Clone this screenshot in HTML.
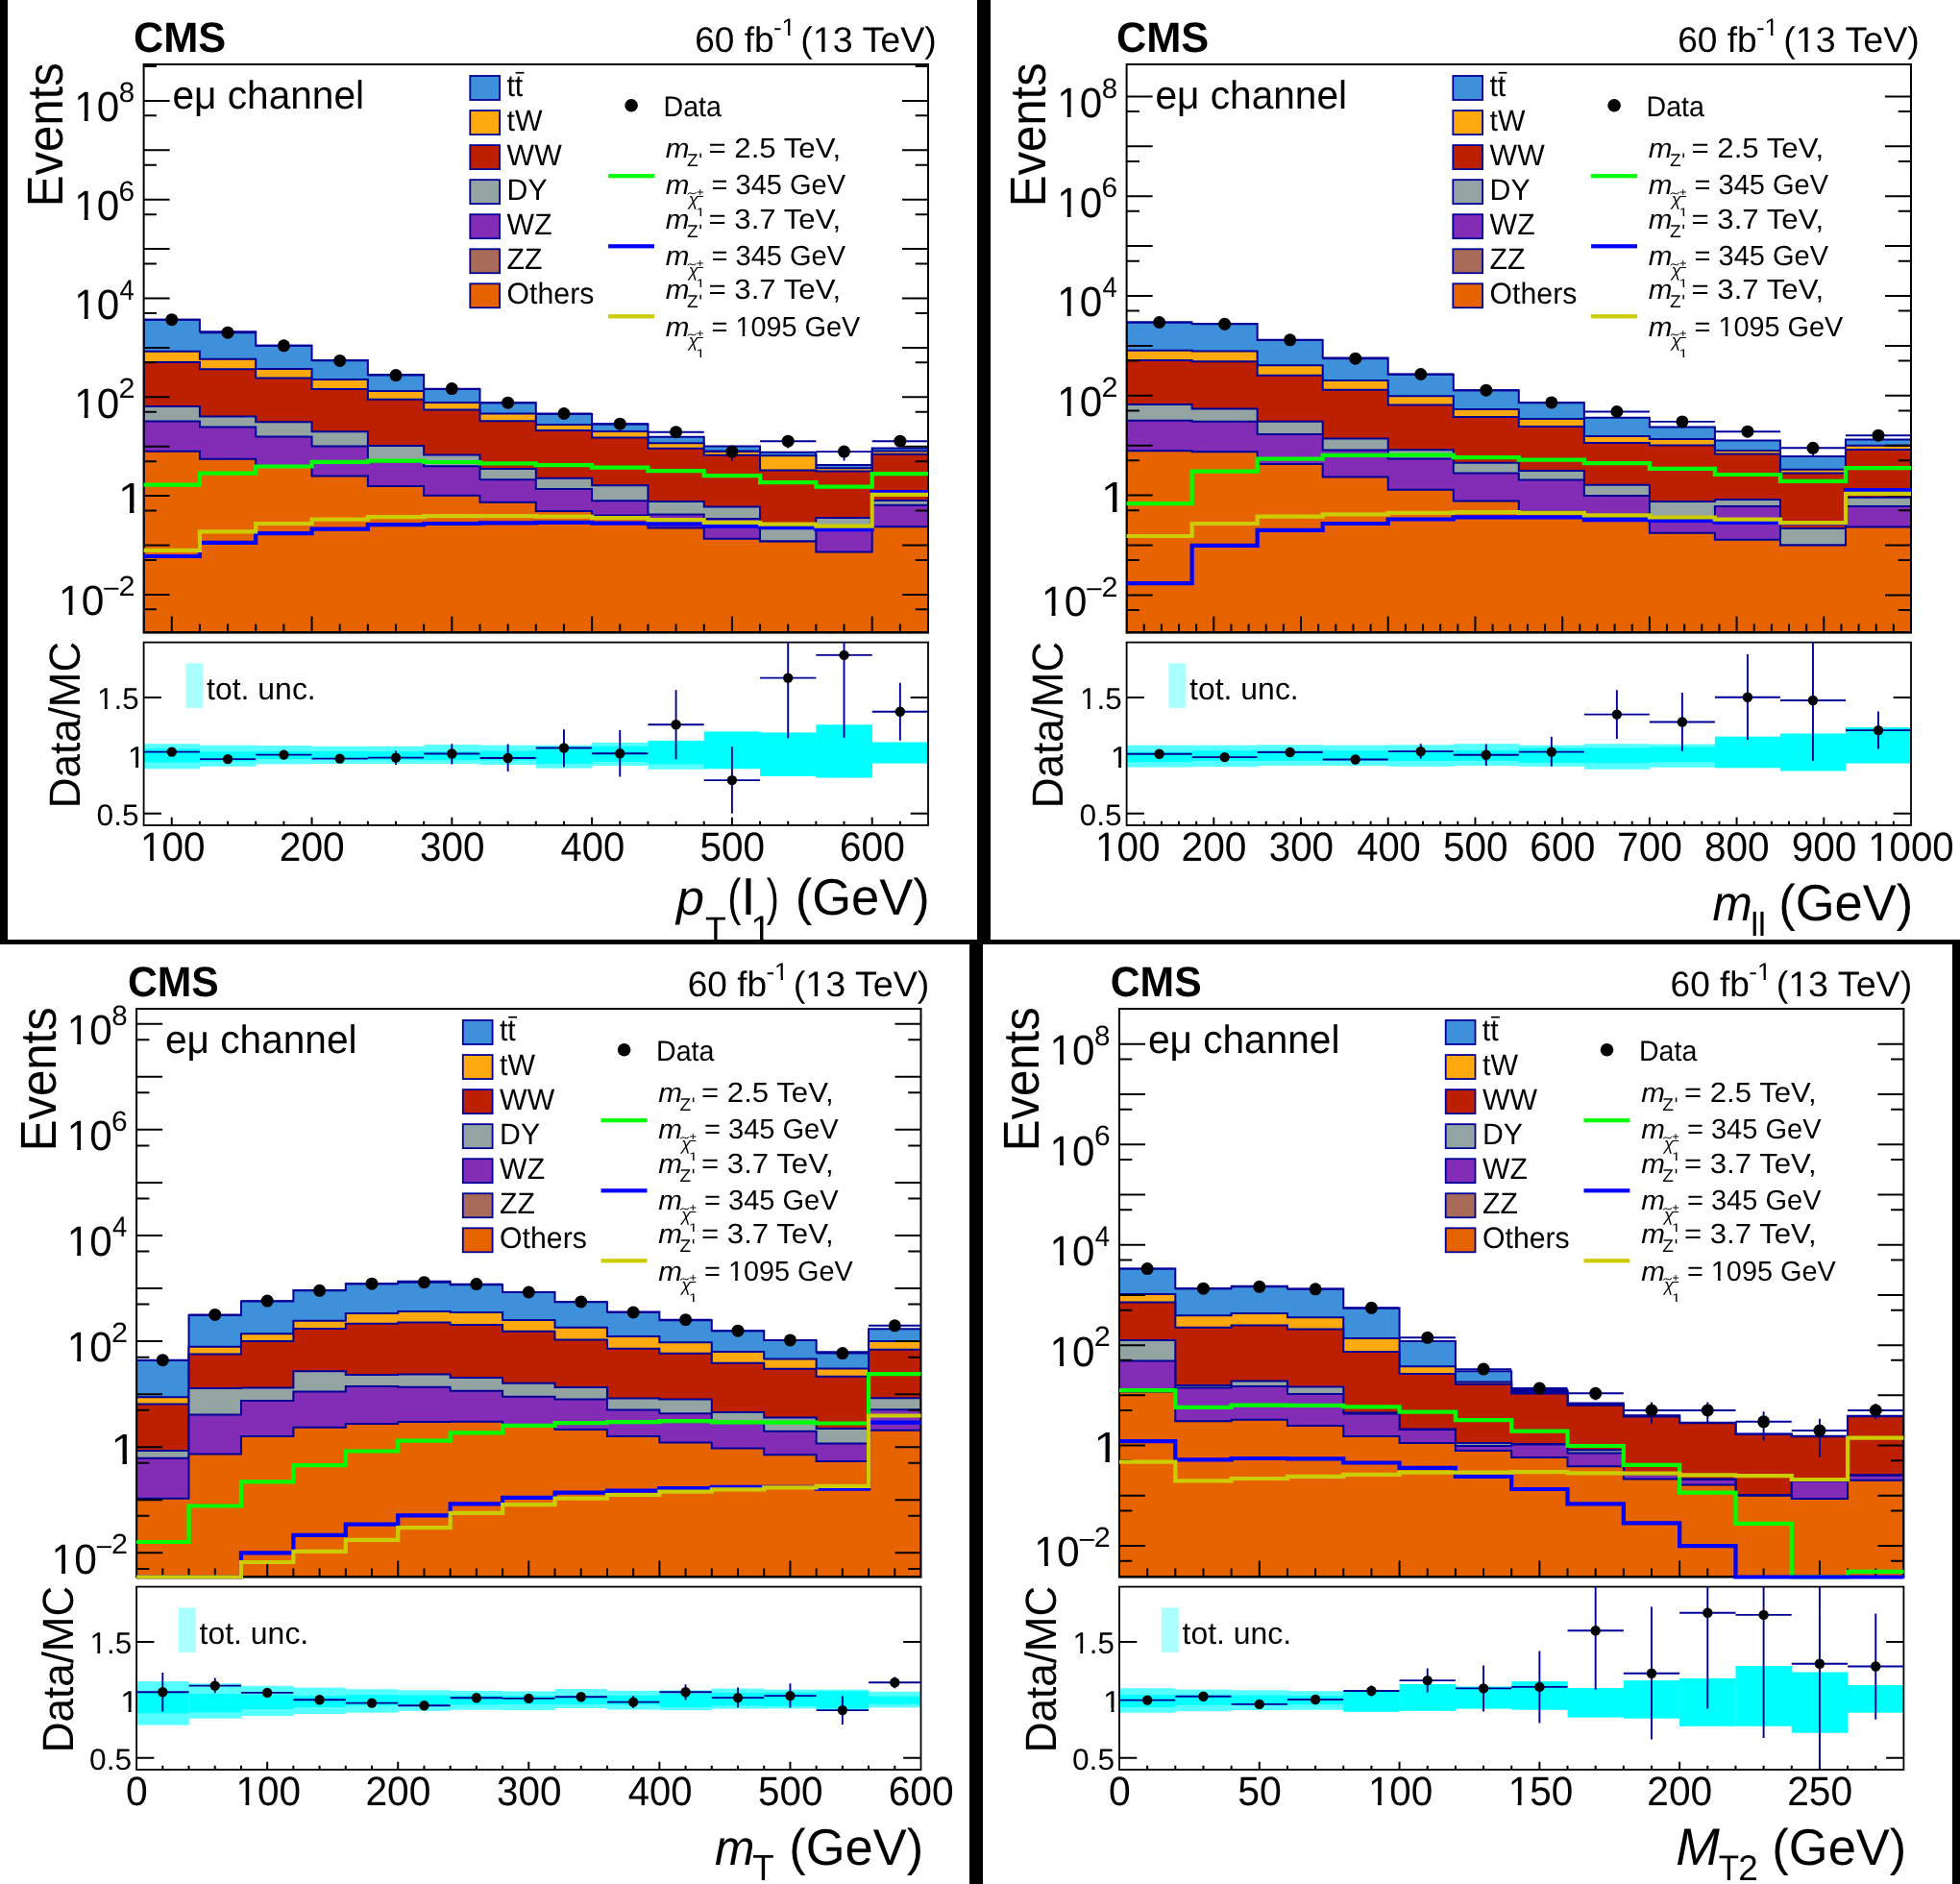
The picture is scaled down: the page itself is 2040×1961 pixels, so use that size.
<!DOCTYPE html><html><head><meta charset="utf-8"><style>html,body{margin:0;padding:0;background:#000}svg{display:block;will-change:transform}text{font-family:"Liberation Sans",sans-serif;text-rendering:geometricPrecision}</style></head><body>
<svg width="2040" height="1961" viewBox="0 0 2040 1961" font-family="Liberation Sans, sans-serif">
<rect width="2040" height="1961" fill="#000"/>
<rect x="8" y="0" width="1009" height="978" fill="#fff"/>
<clipPath id="pTL"><rect x="0" y="0" width="1009" height="978"/></clipPath>
<g transform="translate(8,0)" clip-path="url(#pTL)">
<g transform="translate(69.19,126.30) scale(0.9632,1)"><text font-size="43.86" fill="#000">10</text><rect x="2.63" y="-5.04" width="8.31" height="5.64" fill="#fff"/><rect x="14.98" y="-5.04" width="8.05" height="5.64" fill="#fff"/></g>
<text transform="translate(115.67,106.05) scale(1.0074,1)" font-size="29.36" fill="#000">8</text>
<g transform="translate(69.19,229.10) scale(0.9632,1)"><text font-size="43.86" fill="#000">10</text><rect x="2.63" y="-5.04" width="8.31" height="5.64" fill="#fff"/><rect x="14.98" y="-5.04" width="8.05" height="5.64" fill="#fff"/></g>
<text transform="translate(115.51,208.85) scale(1.0182,1)" font-size="29.36" fill="#000">6</text>
<g transform="translate(69.19,331.90) scale(0.9632,1)"><text font-size="43.86" fill="#000">10</text><rect x="2.63" y="-5.04" width="8.31" height="5.64" fill="#fff"/><rect x="14.98" y="-5.04" width="8.05" height="5.64" fill="#fff"/></g>
<text transform="translate(116.45,311.65) scale(0.9242,1)" font-size="29.78" fill="#000">4</text>
<g transform="translate(69.19,434.70) scale(0.9632,1)"><text font-size="43.86" fill="#000">10</text><rect x="2.63" y="-5.04" width="8.31" height="5.64" fill="#fff"/><rect x="14.98" y="-5.04" width="8.05" height="5.64" fill="#fff"/></g>
<text transform="translate(115.47,414.45) scale(1.0406,1)" font-size="29.36" fill="#000">2</text>
<g transform="translate(114.75,533.90) scale(1.0902,1)"><text font-size="44.93" fill="#000">1</text><rect x="2.70" y="-5.17" width="8.51" height="5.77" fill="#fff"/><rect x="15.34" y="-5.17" width="8.24" height="5.77" fill="#fff"/></g>
<g transform="translate(52.96,640.30) scale(0.9702,1)"><text font-size="43.86" fill="#000">10</text><rect x="2.63" y="-5.04" width="8.31" height="5.64" fill="#fff"/><rect x="14.98" y="-5.04" width="8.05" height="5.64" fill="#fff"/></g>
<rect x="100.3" y="611.8" width="15.1" height="1.9" fill="#000"/>
<text transform="translate(115.47,620.05) scale(1.0406,1)" font-size="29.36" fill="#000">2</text>
<g transform="translate(93.02,737.70) scale(0.9937,1)"><text font-size="31.59" fill="#000">1.5</text><rect x="1.90" y="-3.63" width="5.99" height="4.23" fill="#fff"/><rect x="10.79" y="-3.63" width="5.80" height="4.23" fill="#fff"/></g>
<g transform="translate(124.72,798.60) scale(1.0594,1)"><text font-size="31.59" fill="#000">1</text><rect x="1.90" y="-3.63" width="5.99" height="4.23" fill="#fff"/><rect x="10.79" y="-3.63" width="5.80" height="4.23" fill="#fff"/></g>
<text transform="translate(92.53,858.90) scale(1.0197,1)" font-size="31.14" fill="#000">0.5</text>
<clipPath id="cTL"><rect x="141.6" y="67" width="816.4" height="592.5"/></clipPath>
<g clip-path="url(#cTL)">
<path d="M141.6,658L141.6,332.7H199.91V345.3H258.23V359.8H316.54V375H374.86V390.1H433.17V404.9H491.49V419.2H549.8V430.9H608.11V441.5H666.43V454.8H724.74V464.6H783.06V470.7H841.37V483.9H899.69V466.6H958V658Z" fill="#3f90da" stroke="#000099" stroke-width="2" stroke-linejoin="miter"/>
<path d="M141.6,658L141.6,365.7H199.91V373.7H258.23V383.9H316.54V395.1H374.86V406.9H433.17V418.9H491.49V430.4H549.8V442H608.11V448.9H666.43V461.2H724.74V469.6H783.06V474.2H841.37V487.2H899.69V469.6H958V658Z" fill="#ffa90e" stroke="#000099" stroke-width="2" stroke-linejoin="miter"/>
<path d="M141.6,658L141.6,376.9H199.91V384.3H258.23V393.6H316.54V405.1H374.86V415.8H433.17V426.6H491.49V438.3H549.8V448.1H608.11V455.5H666.43V466.7H724.74V473.8H783.06V489.5H841.37V490.6H899.69V472.7H958V658Z" fill="#bd1f01" stroke="#000099" stroke-width="2" stroke-linejoin="miter"/>
<path d="M141.6,658L141.6,422.9H199.91V433.5H258.23V439.3H316.54V449.3H374.86V464H433.17V473.4H491.49V487.9H549.8V497.7H608.11V505.2H666.43V522.1H724.74V527.4H783.06V547.7H841.37V539H899.69V520.9H958V658Z" fill="#94a4a2" stroke="#000099" stroke-width="2" stroke-linejoin="miter"/>
<path d="M141.6,658L141.6,438.6H199.91V444.5H258.23V454.5H316.54V464.6H374.86V480H433.17V485.3H491.49V499.3H549.8V508.9H608.11V521.3H666.43V535.4H724.74V540.1H783.06V563.5H841.37V549.2H899.69V525.8H958V658Z" fill="#832db6" stroke="#000099" stroke-width="2" stroke-linejoin="miter"/>
<path d="M141.6,658L141.6,469.8H199.91V477.7H258.23V485.6H316.54V495.4H374.86V506.1H433.17V515.7H491.49V522.7H549.8V532H608.11V536.4H666.43V549.6H724.74V560.7H783.06V563.5H841.37V574.5H899.69V548.2H958V658Z" fill="#e76300" stroke="#000099" stroke-width="2" stroke-linejoin="miter"/>
</g>
<rect x="141.6" y="774.2" width="58.61" height="26.1" fill="#55ffff"/>
<rect x="141.6" y="779.4" width="58.61" height="14.1" fill="#00ffff"/>
<rect x="199.91" y="775.7" width="58.61" height="22.1" fill="#55ffff"/>
<rect x="199.91" y="782.4" width="58.61" height="10.2" fill="#00ffff"/>
<rect x="258.23" y="776.1" width="58.61" height="19.3" fill="#55ffff"/>
<rect x="258.23" y="782.1" width="58.61" height="8" fill="#00ffff"/>
<rect x="316.54" y="776.8" width="58.61" height="18.2" fill="#55ffff"/>
<rect x="316.54" y="782.1" width="58.61" height="7.4" fill="#00ffff"/>
<rect x="374.86" y="776.8" width="58.61" height="18.2" fill="#55ffff"/>
<rect x="374.86" y="782.21" width="58.61" height="8.78" fill="#00ffff"/>
<rect x="433.17" y="775.1" width="58.61" height="19.9" fill="#55ffff"/>
<rect x="433.17" y="782.21" width="58.61" height="8.78" fill="#00ffff"/>
<rect x="491.49" y="775.7" width="58.61" height="20.4" fill="#55ffff"/>
<rect x="491.49" y="781.69" width="58.61" height="9.81" fill="#00ffff"/>
<rect x="549.8" y="775.7" width="58.61" height="24" fill="#55ffff"/>
<rect x="549.8" y="778.5" width="58.61" height="16.5" fill="#00ffff"/>
<rect x="608.11" y="772.9" width="58.61" height="24.2" fill="#55ffff"/>
<rect x="608.11" y="776.8" width="58.61" height="16.1" fill="#00ffff"/>
<rect x="666.43" y="770.8" width="58.61" height="30" fill="#55ffff"/>
<rect x="666.43" y="771.4" width="58.61" height="24" fill="#00ffff"/>
<rect x="724.74" y="761.4" width="58.61" height="38.9" fill="#00ffff"/>
<rect x="783.06" y="762.4" width="58.61" height="45.5" fill="#00ffff"/>
<rect x="841.37" y="754.3" width="58.61" height="55.3" fill="#00ffff"/>
<rect x="899.69" y="772.5" width="58.61" height="22.1" fill="#00ffff"/>
<path d="M141.6,634.37h13.3M958,634.37h-13.3M141.6,618.9h27M958,618.9h-27M141.6,582.97h13.3M958,582.97h-13.3M141.6,567.5h27M958,567.5h-27M141.6,531.57h13.3M958,531.57h-13.3M141.6,516.1h27M958,516.1h-27M141.6,480.17h13.3M958,480.17h-13.3M141.6,464.7h27M958,464.7h-27M141.6,428.77h13.3M958,428.77h-13.3M141.6,413.3h27M958,413.3h-27M141.6,377.37h13.3M958,377.37h-13.3M141.6,361.9h27M958,361.9h-27M141.6,325.97h13.3M958,325.97h-13.3M141.6,310.5h27M958,310.5h-27M141.6,274.57h13.3M958,274.57h-13.3M141.6,259.1h27M958,259.1h-27M141.6,223.17h13.3M958,223.17h-13.3M141.6,207.7h27M958,207.7h-27M141.6,171.77h13.3M958,171.77h-13.3M141.6,156.3h27M958,156.3h-27M141.6,120.37h13.3M958,120.37h-13.3M141.6,104.9h27M958,104.9h-27M141.6,68.97h13.3M958,68.97h-13.3M170.76,658v-16.5M170.76,859v-8.3M199.91,658v-8.5M199.91,859v-4.3M229.07,658v-8.5M229.07,859v-4.3M258.23,658v-8.5M258.23,859v-4.3M287.39,658v-8.5M287.39,859v-4.3M316.54,658v-16.5M316.54,859v-8.3M345.7,658v-8.5M345.7,859v-4.3M374.86,658v-8.5M374.86,859v-4.3M404.01,658v-8.5M404.01,859v-4.3M433.17,658v-8.5M433.17,859v-4.3M462.33,658v-16.5M462.33,859v-8.3M491.49,658v-8.5M491.49,859v-4.3M520.64,658v-8.5M520.64,859v-4.3M549.8,658v-8.5M549.8,859v-4.3M578.96,658v-8.5M578.96,859v-4.3M608.11,658v-16.5M608.11,859v-8.3M637.27,658v-8.5M637.27,859v-4.3M666.43,658v-8.5M666.43,859v-4.3M695.59,658v-8.5M695.59,859v-4.3M724.74,658v-8.5M724.74,859v-4.3M753.9,658v-16.5M753.9,859v-8.3M783.06,658v-8.5M783.06,859v-4.3M812.21,658v-8.5M812.21,859v-4.3M841.37,658v-8.5M841.37,859v-4.3M870.53,658v-8.5M870.53,859v-4.3M899.69,658v-16.5M899.69,859v-8.3M928.84,658v-8.5M928.84,859v-4.3M141.6,846.7h18.3M958,846.7h-18.3M141.6,725.9h18.3M958,725.9h-18.3" fill="none" stroke="#000" stroke-width="2"/>
<rect x="141.6" y="67" width="816.4" height="591" fill="none" stroke="#000" stroke-width="2"/>
<rect x="140.6" y="658.6" width="818.4" height="1" fill="#000"/>
<rect x="141.6" y="668.6" width="816.4" height="190.4" fill="none" stroke="#000" stroke-width="1.8"/>
<path d="M141.6,504.7H199.91V492.6H258.23V485.5H316.54V480.9H374.86V479.6H433.17V481H491.49V482.3H549.8V484.2H608.11V486.6H666.43V490.1H724.74V495.2H783.06V502.1H841.37V506.7H899.69V493.1H958" fill="none" stroke="#00ff00" stroke-width="4.2" stroke-linejoin="miter" stroke-linecap="butt"/>
<path d="M141.6,579H199.91V564.9H258.23V555.2H316.54V550.6H374.86V546.2H433.17V545H491.49V544.4H549.8V543.9H608.11V544.7H666.43V545.4H724.74V547.7H783.06V549.2H841.37V551.1H899.69V512.2H958" fill="none" stroke="#0000ff" stroke-width="4.2" stroke-linejoin="miter" stroke-linecap="butt"/>
<path d="M141.6,572.9H199.91V553.4H258.23V545H316.54V540.7H374.86V538.2H433.17V537.1H491.49V537.1H549.8V537.7H608.11V539.1H666.43V541.1H724.74V543.9H783.06V545.7H841.37V547.7H899.69V514.8H958" fill="none" stroke="#cccc00" stroke-width="4.2" stroke-linejoin="miter" stroke-linecap="butt"/>
<path d="M141.6,332.7H199.91M199.91,346.2H258.23M258.23,359.8H316.54M316.54,375.4H374.86M374.86,390.6H433.17M433.17,404.6H491.49M491.49,419.2H549.8M549.8,430.5H608.11M608.11,441.2H666.43M666.43,449.7H724.74M724.74,470.1H783.06M753.9,470.1V479.6M783.06,459.2H841.37M812.21,459.2V466.6M841.37,470.1H899.69M870.53,470.1V479.6M899.69,459.2H958M141.6,782.6H199.91M199.91,790.1H258.23M258.23,785.6H316.54M316.54,789.6H374.86M374.86,788.6H433.17M404.01,781.5V796.1M433.17,784.5H491.49M462.33,774.2V795.4M491.49,789H549.8M520.64,774.6V802.9M549.8,778.5H608.11M578.96,759.2V798.6M608.11,784.3H666.43M637.27,760.1V808.5M666.43,754.3H724.74M695.59,718.3V790.3M724.74,812.1H783.06M753.9,777.2V846.8M783.06,705.6H841.37M812.21,668.6V768.6M841.37,681.9H899.69M870.53,668.6V767.8M899.69,740.8H958M928.84,710.8V770.8" fill="none" stroke="#000099" stroke-width="1.9"/>
<g fill="#000"><circle cx="170.76" cy="332.7" r="6.5"/><circle cx="229.07" cy="346.2" r="6.5"/><circle cx="287.39" cy="359.8" r="6.5"/><circle cx="345.7" cy="375.4" r="6.5"/><circle cx="404.01" cy="390.6" r="6.5"/><circle cx="462.33" cy="404.6" r="6.5"/><circle cx="520.64" cy="419.2" r="6.5"/><circle cx="578.96" cy="430.5" r="6.5"/><circle cx="637.27" cy="441.2" r="6.5"/><circle cx="695.59" cy="449.7" r="6.5"/><circle cx="753.9" cy="470.1" r="6.5"/><circle cx="812.21" cy="459.2" r="6.5"/><circle cx="870.53" cy="470.1" r="6.5"/><circle cx="928.84" cy="459.2" r="6.5"/><circle cx="170.76" cy="782.6" r="5.2"/><circle cx="229.07" cy="790.1" r="5.2"/><circle cx="287.39" cy="785.6" r="5.2"/><circle cx="345.7" cy="789.6" r="5.2"/><circle cx="404.01" cy="788.6" r="5.2"/><circle cx="462.33" cy="784.5" r="5.2"/><circle cx="520.64" cy="789" r="5.2"/><circle cx="578.96" cy="778.5" r="5.2"/><circle cx="637.27" cy="784.3" r="5.2"/><circle cx="695.59" cy="754.3" r="5.2"/><circle cx="753.9" cy="812.1" r="5.2"/><circle cx="812.21" cy="705.6" r="5.2"/><circle cx="870.53" cy="681.9" r="5.2"/><circle cx="928.84" cy="740.8" r="5.2"/></g>
<text transform="translate(130.97,53.60) scale(0.9822,1)" font-size="44.14" font-weight="bold" fill="#000">CMS</text>
<text transform="translate(715.15,54.00) scale(1.0023,1)" font-size="36.97" fill="#000">60 fb</text>
<g transform="translate(796.93,36.70) scale(1.0206,1)"><text font-size="25.51" fill="#000">-1</text><rect x="10.03" y="-2.93" width="4.83" height="3.53" fill="#fff"/><rect x="17.21" y="-2.93" width="4.68" height="3.53" fill="#fff"/></g>
<g transform="translate(825.24,54.00) scale(1.0182,1)"><text font-size="36.97" fill="#000">(13 TeV)</text><rect x="14.53" y="-4.25" width="7.00" height="4.85" fill="#fff"/><rect x="24.93" y="-4.25" width="6.78" height="4.85" fill="#fff"/></g>
<text transform="translate(171.48,113.30) scale(0.9850,1)" font-size="41.24" fill="#000">eμ channel</text>
<rect x="481.3" y="79" width="30.8" height="25" fill="#3f90da" stroke="#000099" stroke-width="1.8"/>
<text transform="translate(519.45,99.90) scale(0.9601,1)" font-size="31.54" fill="#000">tt</text>
<rect x="528.7" y="74.9" width="8.8" height="1.7" fill="#000"/>
<rect x="481.3" y="115.05" width="30.8" height="25" fill="#ffa90e" stroke="#000099" stroke-width="1.8"/>
<text transform="translate(519.60,135.90) scale(0.9750,1)" font-size="31.01" fill="#000">tW</text>
<rect x="481.3" y="151.1" width="30.8" height="25" fill="#bd1f01" stroke="#000099" stroke-width="1.8"/>
<text transform="translate(519.60,171.90) scale(0.9750,1)" font-size="31.01" fill="#000">WW</text>
<rect x="481.3" y="187.15" width="30.8" height="25" fill="#94a4a2" stroke="#000099" stroke-width="1.8"/>
<text transform="translate(519.60,207.90) scale(0.9750,1)" font-size="31.01" fill="#000">DY</text>
<rect x="481.3" y="223.2" width="30.8" height="25" fill="#832db6" stroke="#000099" stroke-width="1.8"/>
<text transform="translate(519.60,243.90) scale(0.9750,1)" font-size="31.01" fill="#000">WZ</text>
<rect x="481.3" y="259.25" width="30.8" height="25" fill="#a96b59" stroke="#000099" stroke-width="1.8"/>
<text transform="translate(519.60,279.90) scale(0.9750,1)" font-size="31.01" fill="#000">ZZ</text>
<rect x="481.3" y="295.3" width="30.8" height="25" fill="#e76300" stroke="#000099" stroke-width="1.8"/>
<text transform="translate(519.60,315.90) scale(0.9750,1)" font-size="31.01" fill="#000">Others</text>
<circle cx="649.1" cy="109.8" r="6.8" fill="#000"/>
<text transform="translate(682.51,120.90) scale(0.9570,1)" font-size="29.86" fill="#000">Data</text>
<rect x="625.1" y="181.1" width="47.9" height="4.2" fill="#00ff00"/>
<rect x="625.1" y="254.2" width="47.9" height="4.2" fill="#0000ff"/>
<rect x="625.1" y="327.2" width="47.9" height="4.2" fill="#cccc00"/>
<text transform="translate(684.76,163.70) scale(1.0383,1)" font-size="28.52" font-style="italic" fill="#000">m</text>
<text transform="translate(706.93,172.60) scale(1.0291,1)" font-size="18.55" fill="#000">Z</text>
<rect x="720.4" y="159.5" width="1.5" height="4.6" fill="#000"/>
<text transform="translate(729.54,163.70) scale(1.0691,1)" font-size="29.14" fill="#000">= 2.5 TeV,</text>
<text transform="translate(684.76,202.40) scale(1.0383,1)" font-size="28.52" font-style="italic" fill="#000">m</text>
<text transform="translate(708.72,213.80) scale(0.9621,1)" font-size="18.48" font-family="Liberation Serif" font-style="italic" fill="#000">χ</text>
<path d="M707.6,202.2 q2.2,-2.4 4.5,-0.9 t4.6,-0.9" fill="none" stroke="#000" stroke-width="1"/>
<text transform="translate(717.21,204.60) scale(0.9408,1)" font-size="13.67" fill="#000">±</text>
<g transform="translate(716.55,225.30) scale(1.3099,1)"><text font-size="12.46" fill="#000">1</text><rect x="0.75" y="-1.43" width="2.36" height="2.03" fill="#fff"/><rect x="4.26" y="-1.43" width="2.29" height="2.03" fill="#fff"/></g>
<text transform="translate(732.55,202.40) scale(0.9962,1)" font-size="29.14" fill="#000">= 345 GeV</text>
<text transform="translate(684.76,237.90) scale(1.0383,1)" font-size="28.52" font-style="italic" fill="#000">m</text>
<text transform="translate(706.93,246.80) scale(1.0291,1)" font-size="18.55" fill="#000">Z</text>
<rect x="720.4" y="233.7" width="1.5" height="4.6" fill="#000"/>
<text transform="translate(729.54,237.90) scale(1.0691,1)" font-size="29.14" fill="#000">= 3.7 TeV,</text>
<text transform="translate(684.76,276.40) scale(1.0383,1)" font-size="28.52" font-style="italic" fill="#000">m</text>
<text transform="translate(708.72,287.80) scale(0.9621,1)" font-size="18.48" font-family="Liberation Serif" font-style="italic" fill="#000">χ</text>
<path d="M707.6,276.2 q2.2,-2.4 4.5,-0.9 t4.6,-0.9" fill="none" stroke="#000" stroke-width="1"/>
<text transform="translate(717.21,278.60) scale(0.9408,1)" font-size="13.67" fill="#000">±</text>
<g transform="translate(716.55,299.30) scale(1.3099,1)"><text font-size="12.46" fill="#000">1</text><rect x="0.75" y="-1.43" width="2.36" height="2.03" fill="#fff"/><rect x="4.26" y="-1.43" width="2.29" height="2.03" fill="#fff"/></g>
<text transform="translate(732.55,276.40) scale(0.9962,1)" font-size="29.14" fill="#000">= 345 GeV</text>
<text transform="translate(684.76,311.00) scale(1.0383,1)" font-size="28.52" font-style="italic" fill="#000">m</text>
<text transform="translate(706.93,319.90) scale(1.0291,1)" font-size="18.55" fill="#000">Z</text>
<rect x="720.4" y="306.8" width="1.5" height="4.6" fill="#000"/>
<text transform="translate(729.54,311.00) scale(1.0691,1)" font-size="29.14" fill="#000">= 3.7 TeV,</text>
<text transform="translate(684.76,349.50) scale(1.0383,1)" font-size="28.52" font-style="italic" fill="#000">m</text>
<text transform="translate(708.72,360.90) scale(0.9621,1)" font-size="18.48" font-family="Liberation Serif" font-style="italic" fill="#000">χ</text>
<path d="M707.6,349.3 q2.2,-2.4 4.5,-0.9 t4.6,-0.9" fill="none" stroke="#000" stroke-width="1"/>
<text transform="translate(717.21,351.70) scale(0.9408,1)" font-size="13.67" fill="#000">±</text>
<g transform="translate(716.55,372.40) scale(1.3099,1)"><text font-size="12.46" fill="#000">1</text><rect x="0.75" y="-1.43" width="2.36" height="2.03" fill="#fff"/><rect x="4.26" y="-1.43" width="2.29" height="2.03" fill="#fff"/></g>
<g transform="translate(732.56,349.50) scale(0.9900,1)"><text font-size="29.14" fill="#000">= 1095 GeV</text><rect x="26.86" y="-3.35" width="5.52" height="3.95" fill="#fff"/><rect x="35.07" y="-3.35" width="5.35" height="3.95" fill="#fff"/></g>
<text transform="translate(57.20,211.40) rotate(-90) translate(-3.93,0) scale(0.9362,1)" font-size="52.46">Events</text>
<text transform="translate(75.20,837.70) rotate(-90) translate(-3.52,0) scale(0.9689,1)" font-size="45.38">Data/MC</text>
<rect x="185.4" y="690.4" width="17.9" height="46.4" fill="#aaffff"/>
<text transform="translate(207.12,728.00) scale(0.9887,1)" font-size="32.31" fill="#000">tot. unc.</text>
<g transform="translate(138.06,896.40) scale(0.9503,1)"><text font-size="42.57" fill="#000">100</text><rect x="2.55" y="-4.90" width="8.07" height="5.50" fill="#fff"/><rect x="14.54" y="-4.90" width="7.81" height="5.50" fill="#fff"/></g>
<text transform="translate(282.76,896.40) scale(0.9560,1)" font-size="42.57" fill="#000">200</text>
<text transform="translate(428.96,896.40) scale(0.9499,1)" font-size="42.57" fill="#000">300</text>
<text transform="translate(575.57,896.40) scale(0.9381,1)" font-size="42.57" fill="#000">400</text>
<text transform="translate(720.53,896.40) scale(0.9499,1)" font-size="42.57" fill="#000">500</text>
<text transform="translate(865.90,896.40) scale(0.9560,1)" font-size="42.57" fill="#000">600</text>
<text transform="translate(696.10,951.90) scale(1.0247,1)" font-size="50.93" font-style="italic" fill="#000">p</text>
<text transform="translate(725.89,979.90) scale(0.9675,1)" font-size="36.81" fill="#000">T</text>
<text transform="translate(749.26,951.90) scale(0.7938,1)" font-size="53.24" fill="#000">(</text>
<text transform="translate(764.54,951.90) scale(1.1082,1)" font-size="52.14" fill="#000">l</text>
<g transform="translate(773.32,979.40) scale(1.0411,1)"><text font-size="37.25" fill="#000">1</text><rect x="2.23" y="-4.28" width="7.06" height="4.88" fill="#fff"/><rect x="12.72" y="-4.28" width="6.83" height="4.88" fill="#fff"/></g>
<text transform="translate(789.80,951.90) scale(0.7371,1)" font-size="53.24" fill="#000">)</text>
<text transform="translate(819.75,951.90) scale(0.9860,1)" font-size="53.24" fill="#000">(GeV)</text>
</g>
<rect x="1031" y="0" width="1009" height="978" fill="#fff"/>
<clipPath id="pTR"><rect x="0" y="0" width="1009" height="978"/></clipPath>
<g transform="translate(1031,0)" clip-path="url(#pTR)">
<g transform="translate(69.19,121.80) scale(0.9632,1)"><text font-size="43.86" fill="#000">10</text><rect x="2.63" y="-5.04" width="8.31" height="5.64" fill="#fff"/><rect x="14.98" y="-5.04" width="8.05" height="5.64" fill="#fff"/></g>
<text transform="translate(115.67,101.55) scale(1.0074,1)" font-size="29.36" fill="#000">8</text>
<g transform="translate(69.19,225.60) scale(0.9632,1)"><text font-size="43.86" fill="#000">10</text><rect x="2.63" y="-5.04" width="8.31" height="5.64" fill="#fff"/><rect x="14.98" y="-5.04" width="8.05" height="5.64" fill="#fff"/></g>
<text transform="translate(115.51,205.35) scale(1.0182,1)" font-size="29.36" fill="#000">6</text>
<g transform="translate(69.19,329.40) scale(0.9632,1)"><text font-size="43.86" fill="#000">10</text><rect x="2.63" y="-5.04" width="8.31" height="5.64" fill="#fff"/><rect x="14.98" y="-5.04" width="8.05" height="5.64" fill="#fff"/></g>
<text transform="translate(116.45,309.15) scale(0.9242,1)" font-size="29.78" fill="#000">4</text>
<g transform="translate(69.19,433.20) scale(0.9632,1)"><text font-size="43.86" fill="#000">10</text><rect x="2.63" y="-5.04" width="8.31" height="5.64" fill="#fff"/><rect x="14.98" y="-5.04" width="8.05" height="5.64" fill="#fff"/></g>
<text transform="translate(115.47,412.95) scale(1.0406,1)" font-size="29.36" fill="#000">2</text>
<g transform="translate(114.75,533.40) scale(1.0902,1)"><text font-size="44.93" fill="#000">1</text><rect x="2.70" y="-5.17" width="8.51" height="5.77" fill="#fff"/><rect x="15.34" y="-5.17" width="8.24" height="5.77" fill="#fff"/></g>
<g transform="translate(52.96,640.80) scale(0.9702,1)"><text font-size="43.86" fill="#000">10</text><rect x="2.63" y="-5.04" width="8.31" height="5.64" fill="#fff"/><rect x="14.98" y="-5.04" width="8.05" height="5.64" fill="#fff"/></g>
<rect x="100.3" y="612.3" width="15.1" height="1.9" fill="#000"/>
<text transform="translate(115.47,620.55) scale(1.0406,1)" font-size="29.36" fill="#000">2</text>
<g transform="translate(93.02,737.70) scale(0.9937,1)"><text font-size="31.59" fill="#000">1.5</text><rect x="1.90" y="-3.63" width="5.99" height="4.23" fill="#fff"/><rect x="10.79" y="-3.63" width="5.80" height="4.23" fill="#fff"/></g>
<g transform="translate(124.72,798.60) scale(1.0594,1)"><text font-size="31.59" fill="#000">1</text><rect x="1.90" y="-3.63" width="5.99" height="4.23" fill="#fff"/><rect x="10.79" y="-3.63" width="5.80" height="4.23" fill="#fff"/></g>
<text transform="translate(92.53,858.90) scale(1.0197,1)" font-size="31.14" fill="#000">0.5</text>
<clipPath id="cTR"><rect x="141.6" y="67" width="816.4" height="592.5"/></clipPath>
<g clip-path="url(#cTR)">
<path d="M141.6,658L141.6,335.6H209.63V336.9H277.67V354H345.7V372.4H413.73V389.7H481.77V406.2H549.8V419.2H617.83V434.8H685.87V444.5H753.9V458.5H821.93V474.9H889.97V457.6H958V658Z" fill="#3f90da" stroke="#000099" stroke-width="2" stroke-linejoin="miter"/>
<path d="M141.6,658L141.6,364.8H209.63V365.4H277.67V380.2H345.7V396H413.73V412.3H481.77V426.1H549.8V436.1H617.83V453.9H685.87V456.9H753.9V469.1H821.93V488.7H889.97V463.7H958V658Z" fill="#ffa90e" stroke="#000099" stroke-width="2" stroke-linejoin="miter"/>
<path d="M141.6,658L141.6,375H209.63V376.3H277.67V390.8H345.7V405.8H413.73V421.4H481.77V434H549.8V443.9H617.83V461.1H685.87V463.4H753.9V472.6H821.93V492.5H889.97V468H958V658Z" fill="#bd1f01" stroke="#000099" stroke-width="2" stroke-linejoin="miter"/>
<path d="M141.6,658L141.6,421.1H209.63V425.5H277.67V438.7H345.7V456.4H413.73V468.3H481.77V481.8H549.8V490.1H617.83V504.8H685.87V522H753.9V520.1H821.93V549.9H889.97V517.8H958V658Z" fill="#94a4a2" stroke="#000099" stroke-width="2" stroke-linejoin="miter"/>
<path d="M141.6,658L141.6,437.8H209.63V438.7H277.67V452.1H345.7V468.4H413.73V477.4H481.77V492.5H549.8V499.6H617.83V516H685.87V538.4H753.9V526.9H821.93V567.5H889.97V526.9H958V658Z" fill="#832db6" stroke="#000099" stroke-width="2" stroke-linejoin="miter"/>
<path d="M141.6,658L141.6,469.2H209.63V470.3H277.67V483.1H345.7V496.6H413.73V509.7H481.77V521.6H549.8V532.8H617.83V538.4H685.87V554.8H753.9V561.7H821.93V567.5H889.97V548.4H958V658Z" fill="#e76300" stroke="#000099" stroke-width="2" stroke-linejoin="miter"/>
</g>
<rect x="141.6" y="775.7" width="68.33" height="22.9" fill="#55ffff"/>
<rect x="141.6" y="782.6" width="68.33" height="10.7" fill="#00ffff"/>
<rect x="209.63" y="775.7" width="68.33" height="22.5" fill="#55ffff"/>
<rect x="209.63" y="781.32" width="68.33" height="10.56" fill="#00ffff"/>
<rect x="277.67" y="775.3" width="68.33" height="21.8" fill="#55ffff"/>
<rect x="277.67" y="781.22" width="68.33" height="10.75" fill="#00ffff"/>
<rect x="345.7" y="775.7" width="68.33" height="21.4" fill="#55ffff"/>
<rect x="345.7" y="781.32" width="68.33" height="10.56" fill="#00ffff"/>
<rect x="413.73" y="775.3" width="68.33" height="22.5" fill="#55ffff"/>
<rect x="413.73" y="781.13" width="68.33" height="10.94" fill="#00ffff"/>
<rect x="481.77" y="774.2" width="68.33" height="22.9" fill="#55ffff"/>
<rect x="481.77" y="781.22" width="68.33" height="10.75" fill="#00ffff"/>
<rect x="549.8" y="775.7" width="68.33" height="22.1" fill="#55ffff"/>
<rect x="549.8" y="778.5" width="68.33" height="15.4" fill="#00ffff"/>
<rect x="617.83" y="774.2" width="68.33" height="26.6" fill="#55ffff"/>
<rect x="617.83" y="778.5" width="68.33" height="15.8" fill="#00ffff"/>
<rect x="685.87" y="774.6" width="68.33" height="24.2" fill="#55ffff"/>
<rect x="685.87" y="777.4" width="68.33" height="15.9" fill="#00ffff"/>
<rect x="753.9" y="766.7" width="68.33" height="32.6" fill="#00ffff"/>
<rect x="821.93" y="763.5" width="68.33" height="39" fill="#00ffff"/>
<rect x="889.97" y="757.1" width="68.33" height="37.5" fill="#00ffff"/>
<path d="M141.6,635.02h13.3M958,635.02h-13.3M141.6,619.4h27M958,619.4h-27M141.6,583.12h13.3M958,583.12h-13.3M141.6,567.5h27M958,567.5h-27M141.6,531.22h13.3M958,531.22h-13.3M141.6,515.6h27M958,515.6h-27M141.6,479.32h13.3M958,479.32h-13.3M141.6,463.7h27M958,463.7h-27M141.6,427.42h13.3M958,427.42h-13.3M141.6,411.8h27M958,411.8h-27M141.6,375.52h13.3M958,375.52h-13.3M141.6,359.9h27M958,359.9h-27M141.6,323.62h13.3M958,323.62h-13.3M141.6,308h27M958,308h-27M141.6,271.72h13.3M958,271.72h-13.3M141.6,256.1h27M958,256.1h-27M141.6,219.82h13.3M958,219.82h-13.3M141.6,204.2h27M958,204.2h-27M141.6,167.92h13.3M958,167.92h-13.3M141.6,152.3h27M958,152.3h-27M141.6,116.02h13.3M958,116.02h-13.3M141.6,100.4h27M958,100.4h-27M159.74,658v-8.5M159.74,859v-4.3M177.88,658v-8.5M177.88,859v-4.3M196.03,658v-8.5M196.03,859v-4.3M214.17,658v-8.5M214.17,859v-4.3M232.31,658v-16.5M232.31,859v-8.3M250.45,658v-8.5M250.45,859v-4.3M268.6,658v-8.5M268.6,859v-4.3M286.74,658v-8.5M286.74,859v-4.3M304.88,658v-8.5M304.88,859v-4.3M323.02,658v-16.5M323.02,859v-8.3M341.16,658v-8.5M341.16,859v-4.3M359.31,658v-8.5M359.31,859v-4.3M377.45,658v-8.5M377.45,859v-4.3M395.59,658v-8.5M395.59,859v-4.3M413.73,658v-16.5M413.73,859v-8.3M431.88,658v-8.5M431.88,859v-4.3M450.02,658v-8.5M450.02,859v-4.3M468.16,658v-8.5M468.16,859v-4.3M486.3,658v-8.5M486.3,859v-4.3M504.44,658v-16.5M504.44,859v-8.3M522.59,658v-8.5M522.59,859v-4.3M540.73,658v-8.5M540.73,859v-4.3M558.87,658v-8.5M558.87,859v-4.3M577.01,658v-8.5M577.01,859v-4.3M595.16,658v-16.5M595.16,859v-8.3M613.3,658v-8.5M613.3,859v-4.3M631.44,658v-8.5M631.44,859v-4.3M649.58,658v-8.5M649.58,859v-4.3M667.72,658v-8.5M667.72,859v-4.3M685.87,658v-16.5M685.87,859v-8.3M704.01,658v-8.5M704.01,859v-4.3M722.15,658v-8.5M722.15,859v-4.3M740.29,658v-8.5M740.29,859v-4.3M758.44,658v-8.5M758.44,859v-4.3M776.58,658v-16.5M776.58,859v-8.3M794.72,658v-8.5M794.72,859v-4.3M812.86,658v-8.5M812.86,859v-4.3M831,658v-8.5M831,859v-4.3M849.15,658v-8.5M849.15,859v-4.3M867.29,658v-16.5M867.29,859v-8.3M885.43,658v-8.5M885.43,859v-4.3M903.57,658v-8.5M903.57,859v-4.3M921.72,658v-8.5M921.72,859v-4.3M939.86,658v-8.5M939.86,859v-4.3M141.6,846.7h18.3M958,846.7h-18.3M141.6,725.9h18.3M958,725.9h-18.3" fill="none" stroke="#000" stroke-width="2"/>
<rect x="141.6" y="67" width="816.4" height="591" fill="none" stroke="#000" stroke-width="2"/>
<rect x="140.6" y="658.6" width="818.4" height="1" fill="#000"/>
<rect x="141.6" y="668.6" width="816.4" height="190.4" fill="none" stroke="#000" stroke-width="1.8"/>
<path d="M141.6,524.2H209.63V490.6H277.67V477.7H345.7V473.8H413.73V473.6H481.77V476.2H549.8V478.6H617.83V482.1H685.87V487.9H753.9V494H821.93V500.9H889.97V487.1H958" fill="none" stroke="#00ff00" stroke-width="4.2" stroke-linejoin="miter" stroke-linecap="butt"/>
<path d="M141.6,607.2H209.63V567.8H277.67V551.9H345.7V545H413.73V540.5H481.77V538.3H549.8V538.3H617.83V541.1H685.87V541.8H753.9V543.8H821.93V544.6H889.97V510.1H958" fill="none" stroke="#0000ff" stroke-width="4.2" stroke-linejoin="miter" stroke-linecap="butt"/>
<path d="M141.6,558H209.63V545H277.67V537.6H345.7V535.3H413.73V533.9H481.77V533.2H549.8V533.9H617.83V536.4H685.87V538.5H753.9V540.7H821.93V544.1H889.97V513.9H958" fill="none" stroke="#cccc00" stroke-width="4.2" stroke-linejoin="miter" stroke-linecap="butt"/>
<path d="M141.6,335.5H209.63M209.63,337.3H277.67M277.67,353.8H345.7M345.7,373.2H413.73M413.73,389.5H481.77M481.77,406.2H549.8M549.8,418.9H617.83M617.83,428.5H685.87M685.87,438.9H753.9M753.9,449.2H821.93M821.93,466.3H889.97M855.95,466.3V474.9M889.97,453.2H958M141.6,784.7H209.63M209.63,788.1H277.67M277.67,783H345.7M345.7,790.5H413.73M413.73,782.1H481.77M447.75,774.2V789.6M481.77,785.8H549.8M515.78,774.6V797.1M549.8,782.6H617.83M583.82,767.1V797.8M617.83,743.6H685.87M651.85,718.3V768.9M685.87,751.5H753.9M719.88,721.1V781.7M753.9,725.8H821.93M787.92,681V769.9M821.93,729H889.97M855.95,668.6V791.8M889.97,760.1H958M923.98,740.4V779.6" fill="none" stroke="#000099" stroke-width="1.9"/>
<g fill="#000"><circle cx="175.62" cy="335.5" r="6.5"/><circle cx="243.65" cy="337.3" r="6.5"/><circle cx="311.68" cy="353.8" r="6.5"/><circle cx="379.72" cy="373.2" r="6.5"/><circle cx="447.75" cy="389.5" r="6.5"/><circle cx="515.78" cy="406.2" r="6.5"/><circle cx="583.82" cy="418.9" r="6.5"/><circle cx="651.85" cy="428.5" r="6.5"/><circle cx="719.88" cy="438.9" r="6.5"/><circle cx="787.92" cy="449.2" r="6.5"/><circle cx="855.95" cy="466.3" r="6.5"/><circle cx="923.98" cy="453.2" r="6.5"/><circle cx="175.62" cy="784.7" r="5.2"/><circle cx="243.65" cy="788.1" r="5.2"/><circle cx="311.68" cy="783" r="5.2"/><circle cx="379.72" cy="790.5" r="5.2"/><circle cx="447.75" cy="782.1" r="5.2"/><circle cx="515.78" cy="785.8" r="5.2"/><circle cx="583.82" cy="782.6" r="5.2"/><circle cx="651.85" cy="743.6" r="5.2"/><circle cx="719.88" cy="751.5" r="5.2"/><circle cx="787.92" cy="725.8" r="5.2"/><circle cx="855.95" cy="729" r="5.2"/><circle cx="923.98" cy="760.1" r="5.2"/></g>
<text transform="translate(130.97,53.60) scale(0.9822,1)" font-size="44.14" font-weight="bold" fill="#000">CMS</text>
<text transform="translate(715.15,54.00) scale(1.0023,1)" font-size="36.97" fill="#000">60 fb</text>
<g transform="translate(796.93,36.70) scale(1.0206,1)"><text font-size="25.51" fill="#000">-1</text><rect x="10.03" y="-2.93" width="4.83" height="3.53" fill="#fff"/><rect x="17.21" y="-2.93" width="4.68" height="3.53" fill="#fff"/></g>
<g transform="translate(825.24,54.00) scale(1.0182,1)"><text font-size="36.97" fill="#000">(13 TeV)</text><rect x="14.53" y="-4.25" width="7.00" height="4.85" fill="#fff"/><rect x="24.93" y="-4.25" width="6.78" height="4.85" fill="#fff"/></g>
<text transform="translate(171.48,113.30) scale(0.9850,1)" font-size="41.24" fill="#000">eμ channel</text>
<rect x="481.3" y="79" width="30.8" height="25" fill="#3f90da" stroke="#000099" stroke-width="1.8"/>
<text transform="translate(519.45,99.90) scale(0.9601,1)" font-size="31.54" fill="#000">tt</text>
<rect x="528.7" y="74.9" width="8.8" height="1.7" fill="#000"/>
<rect x="481.3" y="115.05" width="30.8" height="25" fill="#ffa90e" stroke="#000099" stroke-width="1.8"/>
<text transform="translate(519.60,135.90) scale(0.9750,1)" font-size="31.01" fill="#000">tW</text>
<rect x="481.3" y="151.1" width="30.8" height="25" fill="#bd1f01" stroke="#000099" stroke-width="1.8"/>
<text transform="translate(519.60,171.90) scale(0.9750,1)" font-size="31.01" fill="#000">WW</text>
<rect x="481.3" y="187.15" width="30.8" height="25" fill="#94a4a2" stroke="#000099" stroke-width="1.8"/>
<text transform="translate(519.60,207.90) scale(0.9750,1)" font-size="31.01" fill="#000">DY</text>
<rect x="481.3" y="223.2" width="30.8" height="25" fill="#832db6" stroke="#000099" stroke-width="1.8"/>
<text transform="translate(519.60,243.90) scale(0.9750,1)" font-size="31.01" fill="#000">WZ</text>
<rect x="481.3" y="259.25" width="30.8" height="25" fill="#a96b59" stroke="#000099" stroke-width="1.8"/>
<text transform="translate(519.60,279.90) scale(0.9750,1)" font-size="31.01" fill="#000">ZZ</text>
<rect x="481.3" y="295.3" width="30.8" height="25" fill="#e76300" stroke="#000099" stroke-width="1.8"/>
<text transform="translate(519.60,315.90) scale(0.9750,1)" font-size="31.01" fill="#000">Others</text>
<circle cx="649.1" cy="109.8" r="6.8" fill="#000"/>
<text transform="translate(682.51,120.90) scale(0.9570,1)" font-size="29.86" fill="#000">Data</text>
<rect x="625.1" y="181.1" width="47.9" height="4.2" fill="#00ff00"/>
<rect x="625.1" y="254.2" width="47.9" height="4.2" fill="#0000ff"/>
<rect x="625.1" y="327.2" width="47.9" height="4.2" fill="#cccc00"/>
<text transform="translate(684.76,163.70) scale(1.0383,1)" font-size="28.52" font-style="italic" fill="#000">m</text>
<text transform="translate(706.93,172.60) scale(1.0291,1)" font-size="18.55" fill="#000">Z</text>
<rect x="720.4" y="159.5" width="1.5" height="4.6" fill="#000"/>
<text transform="translate(729.54,163.70) scale(1.0691,1)" font-size="29.14" fill="#000">= 2.5 TeV,</text>
<text transform="translate(684.76,202.40) scale(1.0383,1)" font-size="28.52" font-style="italic" fill="#000">m</text>
<text transform="translate(708.72,213.80) scale(0.9621,1)" font-size="18.48" font-family="Liberation Serif" font-style="italic" fill="#000">χ</text>
<path d="M707.6,202.2 q2.2,-2.4 4.5,-0.9 t4.6,-0.9" fill="none" stroke="#000" stroke-width="1"/>
<text transform="translate(717.21,204.60) scale(0.9408,1)" font-size="13.67" fill="#000">±</text>
<g transform="translate(716.55,225.30) scale(1.3099,1)"><text font-size="12.46" fill="#000">1</text><rect x="0.75" y="-1.43" width="2.36" height="2.03" fill="#fff"/><rect x="4.26" y="-1.43" width="2.29" height="2.03" fill="#fff"/></g>
<text transform="translate(732.55,202.40) scale(0.9962,1)" font-size="29.14" fill="#000">= 345 GeV</text>
<text transform="translate(684.76,237.90) scale(1.0383,1)" font-size="28.52" font-style="italic" fill="#000">m</text>
<text transform="translate(706.93,246.80) scale(1.0291,1)" font-size="18.55" fill="#000">Z</text>
<rect x="720.4" y="233.7" width="1.5" height="4.6" fill="#000"/>
<text transform="translate(729.54,237.90) scale(1.0691,1)" font-size="29.14" fill="#000">= 3.7 TeV,</text>
<text transform="translate(684.76,276.40) scale(1.0383,1)" font-size="28.52" font-style="italic" fill="#000">m</text>
<text transform="translate(708.72,287.80) scale(0.9621,1)" font-size="18.48" font-family="Liberation Serif" font-style="italic" fill="#000">χ</text>
<path d="M707.6,276.2 q2.2,-2.4 4.5,-0.9 t4.6,-0.9" fill="none" stroke="#000" stroke-width="1"/>
<text transform="translate(717.21,278.60) scale(0.9408,1)" font-size="13.67" fill="#000">±</text>
<g transform="translate(716.55,299.30) scale(1.3099,1)"><text font-size="12.46" fill="#000">1</text><rect x="0.75" y="-1.43" width="2.36" height="2.03" fill="#fff"/><rect x="4.26" y="-1.43" width="2.29" height="2.03" fill="#fff"/></g>
<text transform="translate(732.55,276.40) scale(0.9962,1)" font-size="29.14" fill="#000">= 345 GeV</text>
<text transform="translate(684.76,311.00) scale(1.0383,1)" font-size="28.52" font-style="italic" fill="#000">m</text>
<text transform="translate(706.93,319.90) scale(1.0291,1)" font-size="18.55" fill="#000">Z</text>
<rect x="720.4" y="306.8" width="1.5" height="4.6" fill="#000"/>
<text transform="translate(729.54,311.00) scale(1.0691,1)" font-size="29.14" fill="#000">= 3.7 TeV,</text>
<text transform="translate(684.76,349.50) scale(1.0383,1)" font-size="28.52" font-style="italic" fill="#000">m</text>
<text transform="translate(708.72,360.90) scale(0.9621,1)" font-size="18.48" font-family="Liberation Serif" font-style="italic" fill="#000">χ</text>
<path d="M707.6,349.3 q2.2,-2.4 4.5,-0.9 t4.6,-0.9" fill="none" stroke="#000" stroke-width="1"/>
<text transform="translate(717.21,351.70) scale(0.9408,1)" font-size="13.67" fill="#000">±</text>
<g transform="translate(716.55,372.40) scale(1.3099,1)"><text font-size="12.46" fill="#000">1</text><rect x="0.75" y="-1.43" width="2.36" height="2.03" fill="#fff"/><rect x="4.26" y="-1.43" width="2.29" height="2.03" fill="#fff"/></g>
<g transform="translate(732.56,349.50) scale(0.9900,1)"><text font-size="29.14" fill="#000">= 1095 GeV</text><rect x="26.86" y="-3.35" width="5.52" height="3.95" fill="#fff"/><rect x="35.07" y="-3.35" width="5.35" height="3.95" fill="#fff"/></g>
<text transform="translate(57.20,211.40) rotate(-90) translate(-3.93,0) scale(0.9362,1)" font-size="52.46">Events</text>
<text transform="translate(75.20,837.70) rotate(-90) translate(-3.52,0) scale(0.9689,1)" font-size="45.38">Data/MC</text>
<rect x="185.4" y="690.4" width="17.9" height="46.4" fill="#aaffff"/>
<text transform="translate(207.12,728.00) scale(0.9887,1)" font-size="32.31" fill="#000">tot. unc.</text>
<g transform="translate(108.91,896.40) scale(0.9503,1)"><text font-size="42.57" fill="#000">100</text><rect x="2.55" y="-4.90" width="8.07" height="5.50" fill="#fff"/><rect x="14.54" y="-4.90" width="7.81" height="5.50" fill="#fff"/></g>
<text transform="translate(198.53,896.40) scale(0.9560,1)" font-size="42.57" fill="#000">200</text>
<text transform="translate(289.65,896.40) scale(0.9499,1)" font-size="42.57" fill="#000">300</text>
<text transform="translate(381.18,896.40) scale(0.9381,1)" font-size="42.57" fill="#000">400</text>
<text transform="translate(471.08,896.40) scale(0.9499,1)" font-size="42.57" fill="#000">500</text>
<text transform="translate(561.37,896.40) scale(0.9560,1)" font-size="42.57" fill="#000">600</text>
<text transform="translate(652.08,896.40) scale(0.9560,1)" font-size="42.57" fill="#000">700</text>
<text transform="translate(743.00,896.40) scale(0.9529,1)" font-size="42.57" fill="#000">800</text>
<text transform="translate(833.71,896.40) scale(0.9529,1)" font-size="42.57" fill="#000">900</text>
<g transform="translate(913.18,896.40) scale(0.9441,1)"><text font-size="42.57" fill="#000">1000</text><rect x="2.55" y="-4.90" width="8.07" height="5.50" fill="#fff"/><rect x="14.54" y="-4.90" width="7.81" height="5.50" fill="#fff"/></g>
<text transform="translate(751.56,958.00) scale(0.9568,1)" font-size="51.85" font-style="italic" fill="#000">m</text>
<text transform="translate(791.17,973.60) scale(1.0343,1)" font-size="34.62" fill="#000">ll</text>
<text transform="translate(820.25,958.00) scale(0.9860,1)" font-size="53.24" fill="#000">(GeV)</text>
</g>
<rect x="0" y="983" width="1009" height="978" fill="#fff"/>
<clipPath id="pBL"><rect x="-0.5" y="0" width="1009" height="978"/></clipPath>
<g transform="translate(0.5,983)" clip-path="url(#pBL)">
<g transform="translate(69.19,104.12) scale(0.9632,1)"><text font-size="43.86" fill="#000">10</text><rect x="2.63" y="-5.04" width="8.31" height="5.64" fill="#fff"/><rect x="14.98" y="-5.04" width="8.05" height="5.64" fill="#fff"/></g>
<text transform="translate(115.67,83.87) scale(1.0074,1)" font-size="29.36" fill="#000">8</text>
<g transform="translate(69.19,214.24) scale(0.9632,1)"><text font-size="43.86" fill="#000">10</text><rect x="2.63" y="-5.04" width="8.31" height="5.64" fill="#fff"/><rect x="14.98" y="-5.04" width="8.05" height="5.64" fill="#fff"/></g>
<text transform="translate(115.51,193.99) scale(1.0182,1)" font-size="29.36" fill="#000">6</text>
<g transform="translate(69.19,324.36) scale(0.9632,1)"><text font-size="43.86" fill="#000">10</text><rect x="2.63" y="-5.04" width="8.31" height="5.64" fill="#fff"/><rect x="14.98" y="-5.04" width="8.05" height="5.64" fill="#fff"/></g>
<text transform="translate(116.45,304.11) scale(0.9242,1)" font-size="29.78" fill="#000">4</text>
<g transform="translate(69.19,434.48) scale(0.9632,1)"><text font-size="43.86" fill="#000">10</text><rect x="2.63" y="-5.04" width="8.31" height="5.64" fill="#fff"/><rect x="14.98" y="-5.04" width="8.05" height="5.64" fill="#fff"/></g>
<text transform="translate(115.47,414.23) scale(1.0406,1)" font-size="29.36" fill="#000">2</text>
<g transform="translate(114.75,541.00) scale(1.0902,1)"><text font-size="44.93" fill="#000">1</text><rect x="2.70" y="-5.17" width="8.51" height="5.77" fill="#fff"/><rect x="15.34" y="-5.17" width="8.24" height="5.77" fill="#fff"/></g>
<g transform="translate(52.96,654.72) scale(0.9702,1)"><text font-size="43.86" fill="#000">10</text><rect x="2.63" y="-5.04" width="8.31" height="5.64" fill="#fff"/><rect x="14.98" y="-5.04" width="8.05" height="5.64" fill="#fff"/></g>
<rect x="100.3" y="626.22" width="15.1" height="1.9" fill="#000"/>
<text transform="translate(115.47,634.47) scale(1.0406,1)" font-size="29.36" fill="#000">2</text>
<g transform="translate(93.02,737.70) scale(0.9937,1)"><text font-size="31.59" fill="#000">1.5</text><rect x="1.90" y="-3.63" width="5.99" height="4.23" fill="#fff"/><rect x="10.79" y="-3.63" width="5.80" height="4.23" fill="#fff"/></g>
<g transform="translate(124.72,798.60) scale(1.0594,1)"><text font-size="31.59" fill="#000">1</text><rect x="1.90" y="-3.63" width="5.99" height="4.23" fill="#fff"/><rect x="10.79" y="-3.63" width="5.80" height="4.23" fill="#fff"/></g>
<text transform="translate(92.53,858.90) scale(1.0197,1)" font-size="31.14" fill="#000">0.5</text>
<clipPath id="cBL"><rect x="141.6" y="67" width="816.4" height="592.5"/></clipPath>
<g clip-path="url(#cBL)">
<path d="M141.6,658L141.6,433.1H196.03V386.1H250.45V371.4H304.88V360.1H359.31V353.2H413.73V350.8H468.16V354.2H522.59V362H577.01V372.2H631.44V382.5H685.87V391.2H740.29V402.2H794.72V411.9H849.15V424.3H903.57V400.2H958V658Z" fill="#3f90da" stroke="#000099" stroke-width="2" stroke-linejoin="miter"/>
<path d="M141.6,658L141.6,471.2H196.03V418.8H250.45V405.2H304.88V391.7H359.31V383.9H413.73V382H468.16V382.9H522.59V390.9H577.01V398.7H631.44V407.9H685.87V414.3H740.29V424H794.72V431.6H849.15V441.6H903.57V412.9H958V658Z" fill="#ffa90e" stroke="#000099" stroke-width="2" stroke-linejoin="miter"/>
<path d="M141.6,658L141.6,478.6H196.03V426.6H250.45V413H304.88V400H359.31V394.7H413.73V393.4H468.16V396H522.59V402.8H577.01V411.4H631.44V420.8H685.87V425.8H740.29V435.7H794.72V441.8H849.15V449.8H903.57V421.7H958V658Z" fill="#bd1f01" stroke="#000099" stroke-width="2" stroke-linejoin="miter"/>
<path d="M141.6,658L141.6,526.9H196.03V461.9H250.45V461.5H304.88V444.3H359.31V448H413.73V447.6H468.16V451.1H522.59V456.7H577.01V461H631.44V472.4H685.87V473.4H740.29V487.1H794.72V492.6H849.15V504.1H903.57V472.2H958V658Z" fill="#94a4a2" stroke="#000099" stroke-width="2" stroke-linejoin="miter"/>
<path d="M141.6,658L141.6,534.7H196.03V489.4H250.45V474.9H304.88V465.6H359.31V460H413.73V460.8H468.16V464.7H522.59V470.8H577.01V473.4H631.44V484.5H685.87V488.2H740.29V497.3H794.72V506.7H849.15V519.4H903.57V484.3H958V658Z" fill="#832db6" stroke="#000099" stroke-width="2" stroke-linejoin="miter"/>
<path d="M141.6,658L141.6,576.7H196.03V530.6H250.45V512.1H304.88V502.8H359.31V499.1H413.73V497H468.16V496.8H522.59V500H577.01V505H631.44V512.1H685.87V518.6H740.29V524.5H794.72V531.3H849.15V538.1H903.57V505.8H958V658Z" fill="#e76300" stroke="#000099" stroke-width="2" stroke-linejoin="miter"/>
</g>
<rect x="141.6" y="767.1" width="54.73" height="45.5" fill="#55ffff"/>
<rect x="141.6" y="778.9" width="54.73" height="21.4" fill="#00ffff"/>
<rect x="196.03" y="769.3" width="54.73" height="36.4" fill="#55ffff"/>
<rect x="196.03" y="780" width="54.73" height="19.3" fill="#00ffff"/>
<rect x="250.45" y="771.8" width="54.73" height="31.3" fill="#55ffff"/>
<rect x="250.45" y="781.1" width="54.73" height="15" fill="#00ffff"/>
<rect x="304.88" y="773.6" width="54.73" height="27.4" fill="#55ffff"/>
<rect x="304.88" y="782.1" width="54.73" height="11.8" fill="#00ffff"/>
<rect x="359.31" y="775.3" width="54.73" height="24.4" fill="#55ffff"/>
<rect x="359.31" y="781.13" width="54.73" height="10.94" fill="#00ffff"/>
<rect x="413.73" y="776.3" width="54.73" height="21.5" fill="#55ffff"/>
<rect x="413.73" y="781.6" width="54.73" height="10" fill="#00ffff"/>
<rect x="468.16" y="776.8" width="54.73" height="19.9" fill="#55ffff"/>
<rect x="468.16" y="781.83" width="54.73" height="9.53" fill="#00ffff"/>
<rect x="522.59" y="777.4" width="54.73" height="19.7" fill="#55ffff"/>
<rect x="522.59" y="782.12" width="54.73" height="8.97" fill="#00ffff"/>
<rect x="577.01" y="775.1" width="54.73" height="19.9" fill="#55ffff"/>
<rect x="577.01" y="782.21" width="54.73" height="8.78" fill="#00ffff"/>
<rect x="631.44" y="776.8" width="54.73" height="19.7" fill="#55ffff"/>
<rect x="631.44" y="781.83" width="54.73" height="9.53" fill="#00ffff"/>
<rect x="685.87" y="776.3" width="54.73" height="20.8" fill="#55ffff"/>
<rect x="685.87" y="780" width="54.73" height="13.9" fill="#00ffff"/>
<rect x="740.29" y="774.6" width="54.73" height="21" fill="#55ffff"/>
<rect x="740.29" y="778.9" width="54.73" height="13.5" fill="#00ffff"/>
<rect x="794.72" y="775.7" width="54.73" height="19.7" fill="#55ffff"/>
<rect x="794.72" y="778.5" width="54.73" height="14.4" fill="#00ffff"/>
<rect x="849.15" y="775.7" width="54.73" height="21.4" fill="#55ffff"/>
<rect x="849.15" y="777.4" width="54.73" height="18" fill="#00ffff"/>
<rect x="903.57" y="777.8" width="54.73" height="16.5" fill="#55ffff"/>
<rect x="903.57" y="782.54" width="54.73" height="8.12" fill="#00ffff"/>
<path d="M141.6,649.89h13.3M958,649.89h-13.3M141.6,633.32h27M958,633.32h-27M141.6,594.83h13.3M958,594.83h-13.3M141.6,578.26h27M958,578.26h-27M141.6,539.77h13.3M958,539.77h-13.3M141.6,523.2h27M958,523.2h-27M141.6,484.71h13.3M958,484.71h-13.3M141.6,468.14h27M958,468.14h-27M141.6,429.65h13.3M958,429.65h-13.3M141.6,413.08h27M958,413.08h-27M141.6,374.59h13.3M958,374.59h-13.3M141.6,358.02h27M958,358.02h-27M141.6,319.53h13.3M958,319.53h-13.3M141.6,302.96h27M958,302.96h-27M141.6,264.47h13.3M958,264.47h-13.3M141.6,247.9h27M958,247.9h-27M141.6,209.41h13.3M958,209.41h-13.3M141.6,192.84h27M958,192.84h-27M141.6,154.35h13.3M958,154.35h-13.3M141.6,137.78h27M958,137.78h-27M141.6,99.29h13.3M958,99.29h-13.3M141.6,82.72h27M958,82.72h-27M168.81,658v-8.5M168.81,859v-4.3M196.03,658v-8.5M196.03,859v-4.3M223.24,658v-8.5M223.24,859v-4.3M250.45,658v-8.5M250.45,859v-4.3M277.67,658v-16.5M277.67,859v-8.3M304.88,658v-8.5M304.88,859v-4.3M332.09,658v-8.5M332.09,859v-4.3M359.31,658v-8.5M359.31,859v-4.3M386.52,658v-8.5M386.52,859v-4.3M413.73,658v-16.5M413.73,859v-8.3M440.95,658v-8.5M440.95,859v-4.3M468.16,658v-8.5M468.16,859v-4.3M495.37,658v-8.5M495.37,859v-4.3M522.59,658v-8.5M522.59,859v-4.3M549.8,658v-16.5M549.8,859v-8.3M577.01,658v-8.5M577.01,859v-4.3M604.23,658v-8.5M604.23,859v-4.3M631.44,658v-8.5M631.44,859v-4.3M658.65,658v-8.5M658.65,859v-4.3M685.87,658v-16.5M685.87,859v-8.3M713.08,658v-8.5M713.08,859v-4.3M740.29,658v-8.5M740.29,859v-4.3M767.51,658v-8.5M767.51,859v-4.3M794.72,658v-8.5M794.72,859v-4.3M821.93,658v-16.5M821.93,859v-8.3M849.15,658v-8.5M849.15,859v-4.3M876.36,658v-8.5M876.36,859v-4.3M903.57,658v-8.5M903.57,859v-4.3M930.79,658v-8.5M930.79,859v-4.3M141.6,846.7h18.3M958,846.7h-18.3M141.6,725.9h18.3M958,725.9h-18.3" fill="none" stroke="#000" stroke-width="2"/>
<rect x="141.6" y="67" width="816.4" height="591" fill="none" stroke="#000" stroke-width="2"/>
<rect x="140.6" y="658.6" width="818.4" height="1" fill="#000"/>
<rect x="141.6" y="668.6" width="816.4" height="190.4" fill="none" stroke="#000" stroke-width="1.8"/>
<path d="M141.6,622H196.03V584.5H250.45V559.4H304.88V542.2H359.31V527.5H413.73V516.7H468.16V508.3H522.59V500.9H577.01V498.1H631.44V497.2H685.87V496.2H740.29V497.3H794.72V497.7H849.15V498.5H903.57V447.2H958" fill="none" stroke="#00ff00" stroke-width="4.2" stroke-linejoin="miter" stroke-linecap="butt"/>
<path d="M141.6,658.5H196.03V658.5H250.45V633.4H304.88V614.8H359.31V603.6H413.73V594.4H468.16V582.3H522.59V575.8H577.01V570.6H631.44V568.7H685.87V566H740.29V564.9H794.72V564.9H849.15V566.6H903.57V497.7H958" fill="none" stroke="#0000ff" stroke-width="4.2" stroke-linejoin="miter" stroke-linecap="butt"/>
<path d="M141.6,658.5H196.03V658.5H250.45V643H304.88V631.9H359.31V619.8H413.73V607.1H468.16V591.9H522.59V583.2H577.01V576.7H631.44V573H685.87V569.6H740.29V567.3H794.72V565.3H849.15V563.9H903.57V490.5H958" fill="none" stroke="#cccc00" stroke-width="4.2" stroke-linejoin="miter" stroke-linecap="butt"/>
<path d="M141.6,432.7H196.03M196.03,385.4H250.45M250.45,371.1H304.88M304.88,360.3H359.31M359.31,353.2H413.73M413.73,351.7H468.16M468.16,353.6H522.59M522.59,362H577.01M577.01,372H631.44M631.44,383H685.87M685.87,390.7H740.29M740.29,402.2H794.72M794.72,411.9H849.15M849.15,425.6H903.57M903.57,396.8H958M141.6,778.3H196.03M168.81,758.1V798.6M196.03,771.6H250.45M223.24,763.5V779.3M250.45,778.9H304.88M304.88,786.2H359.31M359.31,789.6H413.73M413.73,792.2H468.16M468.16,784.3H522.59M522.59,784.9H577.01M577.01,783.2H631.44M631.44,788.6H685.87M658.65,782.1V795M685.87,778.3H740.29M713.08,770.3V786.4M740.29,784.1H794.72M767.51,773.6V794.3M794.72,782.1H849.15M821.93,769.3V794.6M849.15,797.1H903.57M876.36,782.6V812.1M903.57,768.2H958M930.79,762.4V774.2" fill="none" stroke="#000099" stroke-width="1.9"/>
<g fill="#000"><circle cx="168.81" cy="432.7" r="6.5"/><circle cx="223.24" cy="385.4" r="6.5"/><circle cx="277.67" cy="371.1" r="6.5"/><circle cx="332.09" cy="360.3" r="6.5"/><circle cx="386.52" cy="353.2" r="6.5"/><circle cx="440.95" cy="351.7" r="6.5"/><circle cx="495.37" cy="353.6" r="6.5"/><circle cx="549.8" cy="362" r="6.5"/><circle cx="604.23" cy="372" r="6.5"/><circle cx="658.65" cy="383" r="6.5"/><circle cx="713.08" cy="390.7" r="6.5"/><circle cx="767.51" cy="402.2" r="6.5"/><circle cx="821.93" cy="411.9" r="6.5"/><circle cx="876.36" cy="425.6" r="6.5"/><circle cx="930.79" cy="396.8" r="6.5"/><circle cx="168.81" cy="778.3" r="5.2"/><circle cx="223.24" cy="771.6" r="5.2"/><circle cx="277.67" cy="778.9" r="5.2"/><circle cx="332.09" cy="786.2" r="5.2"/><circle cx="386.52" cy="789.6" r="5.2"/><circle cx="440.95" cy="792.2" r="5.2"/><circle cx="495.37" cy="784.3" r="5.2"/><circle cx="549.8" cy="784.9" r="5.2"/><circle cx="604.23" cy="783.2" r="5.2"/><circle cx="658.65" cy="788.6" r="5.2"/><circle cx="713.08" cy="778.3" r="5.2"/><circle cx="767.51" cy="784.1" r="5.2"/><circle cx="821.93" cy="782.1" r="5.2"/><circle cx="876.36" cy="797.1" r="5.2"/><circle cx="930.79" cy="768.2" r="5.2"/></g>
<text transform="translate(132.39,53.60) scale(0.9674,1)" font-size="44.14" font-weight="bold" fill="#000">CMS</text>
<text transform="translate(715.15,54.00) scale(1.0023,1)" font-size="36.97" fill="#000">60 fb</text>
<g transform="translate(796.93,36.70) scale(1.0206,1)"><text font-size="25.51" fill="#000">-1</text><rect x="10.03" y="-2.93" width="4.83" height="3.53" fill="#fff"/><rect x="17.21" y="-2.93" width="4.68" height="3.53" fill="#fff"/></g>
<g transform="translate(825.24,54.00) scale(1.0182,1)"><text font-size="36.97" fill="#000">(13 TeV)</text><rect x="14.53" y="-4.25" width="7.00" height="4.85" fill="#fff"/><rect x="24.93" y="-4.25" width="6.78" height="4.85" fill="#fff"/></g>
<text transform="translate(171.48,113.30) scale(0.9850,1)" font-size="41.24" fill="#000">eμ channel</text>
<rect x="481.3" y="79" width="30.8" height="25" fill="#3f90da" stroke="#000099" stroke-width="1.8"/>
<text transform="translate(519.45,99.90) scale(0.9601,1)" font-size="31.54" fill="#000">tt</text>
<rect x="528.7" y="74.9" width="8.8" height="1.7" fill="#000"/>
<rect x="481.3" y="115.05" width="30.8" height="25" fill="#ffa90e" stroke="#000099" stroke-width="1.8"/>
<text transform="translate(519.60,135.90) scale(0.9750,1)" font-size="31.01" fill="#000">tW</text>
<rect x="481.3" y="151.1" width="30.8" height="25" fill="#bd1f01" stroke="#000099" stroke-width="1.8"/>
<text transform="translate(519.60,171.90) scale(0.9750,1)" font-size="31.01" fill="#000">WW</text>
<rect x="481.3" y="187.15" width="30.8" height="25" fill="#94a4a2" stroke="#000099" stroke-width="1.8"/>
<text transform="translate(519.60,207.90) scale(0.9750,1)" font-size="31.01" fill="#000">DY</text>
<rect x="481.3" y="223.2" width="30.8" height="25" fill="#832db6" stroke="#000099" stroke-width="1.8"/>
<text transform="translate(519.60,243.90) scale(0.9750,1)" font-size="31.01" fill="#000">WZ</text>
<rect x="481.3" y="259.25" width="30.8" height="25" fill="#a96b59" stroke="#000099" stroke-width="1.8"/>
<text transform="translate(519.60,279.90) scale(0.9750,1)" font-size="31.01" fill="#000">ZZ</text>
<rect x="481.3" y="295.3" width="30.8" height="25" fill="#e76300" stroke="#000099" stroke-width="1.8"/>
<text transform="translate(519.60,315.90) scale(0.9750,1)" font-size="31.01" fill="#000">Others</text>
<circle cx="649.1" cy="109.8" r="6.8" fill="#000"/>
<text transform="translate(682.51,120.90) scale(0.9570,1)" font-size="29.86" fill="#000">Data</text>
<rect x="625.1" y="181.1" width="47.9" height="4.2" fill="#00ff00"/>
<rect x="625.1" y="254.2" width="47.9" height="4.2" fill="#0000ff"/>
<rect x="625.1" y="327.2" width="47.9" height="4.2" fill="#cccc00"/>
<text transform="translate(684.76,163.70) scale(1.0383,1)" font-size="28.52" font-style="italic" fill="#000">m</text>
<text transform="translate(706.93,172.60) scale(1.0291,1)" font-size="18.55" fill="#000">Z</text>
<rect x="720.4" y="159.5" width="1.5" height="4.6" fill="#000"/>
<text transform="translate(729.54,163.70) scale(1.0691,1)" font-size="29.14" fill="#000">= 2.5 TeV,</text>
<text transform="translate(684.76,202.40) scale(1.0383,1)" font-size="28.52" font-style="italic" fill="#000">m</text>
<text transform="translate(708.72,213.80) scale(0.9621,1)" font-size="18.48" font-family="Liberation Serif" font-style="italic" fill="#000">χ</text>
<path d="M707.6,202.2 q2.2,-2.4 4.5,-0.9 t4.6,-0.9" fill="none" stroke="#000" stroke-width="1"/>
<text transform="translate(717.21,204.60) scale(0.9408,1)" font-size="13.67" fill="#000">±</text>
<g transform="translate(716.55,225.30) scale(1.3099,1)"><text font-size="12.46" fill="#000">1</text><rect x="0.75" y="-1.43" width="2.36" height="2.03" fill="#fff"/><rect x="4.26" y="-1.43" width="2.29" height="2.03" fill="#fff"/></g>
<text transform="translate(732.55,202.40) scale(0.9962,1)" font-size="29.14" fill="#000">= 345 GeV</text>
<text transform="translate(684.76,237.90) scale(1.0383,1)" font-size="28.52" font-style="italic" fill="#000">m</text>
<text transform="translate(706.93,246.80) scale(1.0291,1)" font-size="18.55" fill="#000">Z</text>
<rect x="720.4" y="233.7" width="1.5" height="4.6" fill="#000"/>
<text transform="translate(729.54,237.90) scale(1.0691,1)" font-size="29.14" fill="#000">= 3.7 TeV,</text>
<text transform="translate(684.76,276.40) scale(1.0383,1)" font-size="28.52" font-style="italic" fill="#000">m</text>
<text transform="translate(708.72,287.80) scale(0.9621,1)" font-size="18.48" font-family="Liberation Serif" font-style="italic" fill="#000">χ</text>
<path d="M707.6,276.2 q2.2,-2.4 4.5,-0.9 t4.6,-0.9" fill="none" stroke="#000" stroke-width="1"/>
<text transform="translate(717.21,278.60) scale(0.9408,1)" font-size="13.67" fill="#000">±</text>
<g transform="translate(716.55,299.30) scale(1.3099,1)"><text font-size="12.46" fill="#000">1</text><rect x="0.75" y="-1.43" width="2.36" height="2.03" fill="#fff"/><rect x="4.26" y="-1.43" width="2.29" height="2.03" fill="#fff"/></g>
<text transform="translate(732.55,276.40) scale(0.9962,1)" font-size="29.14" fill="#000">= 345 GeV</text>
<text transform="translate(684.76,311.00) scale(1.0383,1)" font-size="28.52" font-style="italic" fill="#000">m</text>
<text transform="translate(706.93,319.90) scale(1.0291,1)" font-size="18.55" fill="#000">Z</text>
<rect x="720.4" y="306.8" width="1.5" height="4.6" fill="#000"/>
<text transform="translate(729.54,311.00) scale(1.0691,1)" font-size="29.14" fill="#000">= 3.7 TeV,</text>
<text transform="translate(684.76,349.50) scale(1.0383,1)" font-size="28.52" font-style="italic" fill="#000">m</text>
<text transform="translate(708.72,360.90) scale(0.9621,1)" font-size="18.48" font-family="Liberation Serif" font-style="italic" fill="#000">χ</text>
<path d="M707.6,349.3 q2.2,-2.4 4.5,-0.9 t4.6,-0.9" fill="none" stroke="#000" stroke-width="1"/>
<text transform="translate(717.21,351.70) scale(0.9408,1)" font-size="13.67" fill="#000">±</text>
<g transform="translate(716.55,372.40) scale(1.3099,1)"><text font-size="12.46" fill="#000">1</text><rect x="0.75" y="-1.43" width="2.36" height="2.03" fill="#fff"/><rect x="4.26" y="-1.43" width="2.29" height="2.03" fill="#fff"/></g>
<g transform="translate(732.56,349.50) scale(0.9900,1)"><text font-size="29.14" fill="#000">= 1095 GeV</text><rect x="26.86" y="-3.35" width="5.52" height="3.95" fill="#fff"/><rect x="35.07" y="-3.35" width="5.35" height="3.95" fill="#fff"/></g>
<text transform="translate(57.20,211.40) rotate(-90) translate(-3.93,0) scale(0.9362,1)" font-size="52.46">Events</text>
<text transform="translate(75.20,837.70) rotate(-90) translate(-3.52,0) scale(0.9689,1)" font-size="45.38">Data/MC</text>
<rect x="185.4" y="690.4" width="17.9" height="46.4" fill="#aaffff"/>
<text transform="translate(207.12,728.00) scale(0.9887,1)" font-size="32.31" fill="#000">tot. unc.</text>
<text transform="translate(130.57,896.40) scale(0.9592,1)" font-size="42.57" fill="#000">0</text>
<g transform="translate(244.97,896.40) scale(0.9503,1)"><text font-size="42.57" fill="#000">100</text><rect x="2.55" y="-4.90" width="8.07" height="5.50" fill="#fff"/><rect x="14.54" y="-4.90" width="7.81" height="5.50" fill="#fff"/></g>
<text transform="translate(379.95,896.40) scale(0.9560,1)" font-size="42.57" fill="#000">200</text>
<text transform="translate(516.43,896.40) scale(0.9499,1)" font-size="42.57" fill="#000">300</text>
<text transform="translate(653.32,896.40) scale(0.9381,1)" font-size="42.57" fill="#000">400</text>
<text transform="translate(788.57,896.40) scale(0.9499,1)" font-size="42.57" fill="#000">500</text>
<text transform="translate(924.22,896.40) scale(0.9560,1)" font-size="42.57" fill="#000">600</text>
<text transform="translate(743.45,957.90) scale(0.9593,1)" font-size="51.85" font-style="italic" fill="#000">m</text>
<text transform="translate(782.87,973.60) scale(0.9693,1)" font-size="37.83" fill="#000">T</text>
<text transform="translate(820.85,957.90) scale(0.9852,1)" font-size="53.24" fill="#000">(GeV)</text>
</g>
<rect x="1023" y="983" width="1009" height="978" fill="#fff"/>
<clipPath id="pBR"><rect x="-0.4" y="0" width="1009" height="978"/></clipPath>
<g transform="translate(1023.4,983)" clip-path="url(#pBR)">
<g transform="translate(69.19,125.16) scale(0.9632,1)"><text font-size="43.86" fill="#000">10</text><rect x="2.63" y="-5.04" width="8.31" height="5.64" fill="#fff"/><rect x="14.98" y="-5.04" width="8.05" height="5.64" fill="#fff"/></g>
<text transform="translate(115.67,104.91) scale(1.0074,1)" font-size="29.36" fill="#000">8</text>
<g transform="translate(69.19,229.62) scale(0.9632,1)"><text font-size="43.86" fill="#000">10</text><rect x="2.63" y="-5.04" width="8.31" height="5.64" fill="#fff"/><rect x="14.98" y="-5.04" width="8.05" height="5.64" fill="#fff"/></g>
<text transform="translate(115.51,209.37) scale(1.0182,1)" font-size="29.36" fill="#000">6</text>
<g transform="translate(69.19,334.08) scale(0.9632,1)"><text font-size="43.86" fill="#000">10</text><rect x="2.63" y="-5.04" width="8.31" height="5.64" fill="#fff"/><rect x="14.98" y="-5.04" width="8.05" height="5.64" fill="#fff"/></g>
<text transform="translate(116.45,313.83) scale(0.9242,1)" font-size="29.78" fill="#000">4</text>
<g transform="translate(69.19,438.54) scale(0.9632,1)"><text font-size="43.86" fill="#000">10</text><rect x="2.63" y="-5.04" width="8.31" height="5.64" fill="#fff"/><rect x="14.98" y="-5.04" width="8.05" height="5.64" fill="#fff"/></g>
<text transform="translate(115.47,418.29) scale(1.0406,1)" font-size="29.36" fill="#000">2</text>
<g transform="translate(114.75,539.40) scale(1.0902,1)"><text font-size="44.93" fill="#000">1</text><rect x="2.70" y="-5.17" width="8.51" height="5.77" fill="#fff"/><rect x="15.34" y="-5.17" width="8.24" height="5.77" fill="#fff"/></g>
<g transform="translate(52.96,647.46) scale(0.9702,1)"><text font-size="43.86" fill="#000">10</text><rect x="2.63" y="-5.04" width="8.31" height="5.64" fill="#fff"/><rect x="14.98" y="-5.04" width="8.05" height="5.64" fill="#fff"/></g>
<rect x="100.3" y="618.96" width="15.1" height="1.9" fill="#000"/>
<text transform="translate(115.47,627.21) scale(1.0406,1)" font-size="29.36" fill="#000">2</text>
<g transform="translate(93.02,737.70) scale(0.9937,1)"><text font-size="31.59" fill="#000">1.5</text><rect x="1.90" y="-3.63" width="5.99" height="4.23" fill="#fff"/><rect x="10.79" y="-3.63" width="5.80" height="4.23" fill="#fff"/></g>
<g transform="translate(124.72,798.60) scale(1.0594,1)"><text font-size="31.59" fill="#000">1</text><rect x="1.90" y="-3.63" width="5.99" height="4.23" fill="#fff"/><rect x="10.79" y="-3.63" width="5.80" height="4.23" fill="#fff"/></g>
<text transform="translate(92.53,858.90) scale(1.0197,1)" font-size="31.14" fill="#000">0.5</text>
<clipPath id="cBR"><rect x="141.6" y="67" width="816.4" height="592.5"/></clipPath>
<g clip-path="url(#cBR)">
<path d="M141.6,658L141.6,337.6H199.91V358.2H258.23V355.7H316.54V358.6H374.86V378.8H433.17V412.9H491.49V444.2H549.8V463.9H608.11V477.5H666.43V490.2H724.74V497.7H783.06V509.5H841.37V511.8H899.69V490.7H958V658Z" fill="#3f90da" stroke="#000099" stroke-width="2" stroke-linejoin="miter"/>
<path d="M141.6,658L141.6,363.9H199.91V386.3H258.23V384H316.54V388.2H374.86V410H433.17V439.2H491.49V455.4H549.8V465.9H608.11V478.6H666.43V490.8H724.74V498H783.06V509.8H841.37V512H899.69V491H958V658Z" fill="#ffa90e" stroke="#000099" stroke-width="2" stroke-linejoin="miter"/>
<path d="M141.6,658L141.6,372.5H199.91V398.7H258.23V396.4H316.54V400.6H374.86V424H433.17V446.9H491.49V457.8H549.8V467.6H608.11V479.8H666.43V491.4H724.74V498.3H783.06V510.1H841.37V512.3H899.69V491.3H958V658Z" fill="#bd1f01" stroke="#000099" stroke-width="2" stroke-linejoin="miter"/>
<path d="M141.6,658L141.6,412.1H199.91V458.9H258.23V454.5H316.54V460.4H374.86V487.5H433.17V504.5H491.49V518.9H549.8V519.9H608.11V526.2H666.43V551H724.74V556.5H783.06V573.3H841.37V558H899.69V552.3H958V658Z" fill="#94a4a2" stroke="#000099" stroke-width="2" stroke-linejoin="miter"/>
<path d="M141.6,658L141.6,433.5H199.91V461.4H258.23V459.9H316.54V467.9H374.86V488.5H433.17V505H491.49V522H549.8V520.6H608.11V529.6H666.43V551.7H724.74V557H783.06V573.8H841.37V558.5H899.69V552.8H958V658Z" fill="#832db6" stroke="#000099" stroke-width="2" stroke-linejoin="miter"/>
<path d="M141.6,658L141.6,465.6H199.91V496.2H258.23V494.8H316.54V501H374.86V512H433.17V518.9H491.49V527.1H549.8V533.9H608.11V543.2H666.43V556.5H724.74V562.6H783.06V573.8H841.37V576.9H899.69V557.7H958V658Z" fill="#e76300" stroke="#000099" stroke-width="2" stroke-linejoin="miter"/>
</g>
<rect x="141.6" y="774.2" width="58.61" height="25.5" fill="#55ffff"/>
<rect x="141.6" y="781.1" width="58.61" height="12.8" fill="#00ffff"/>
<rect x="199.91" y="775.7" width="58.61" height="22.5" fill="#55ffff"/>
<rect x="199.91" y="781.32" width="58.61" height="10.56" fill="#00ffff"/>
<rect x="258.23" y="776.3" width="58.61" height="20.8" fill="#55ffff"/>
<rect x="258.23" y="781.6" width="58.61" height="10" fill="#00ffff"/>
<rect x="316.54" y="777.2" width="58.61" height="19.5" fill="#55ffff"/>
<rect x="316.54" y="782.02" width="58.61" height="9.15" fill="#00ffff"/>
<rect x="374.86" y="777.4" width="58.61" height="21.4" fill="#00ffff"/>
<rect x="433.17" y="769.9" width="58.61" height="27.9" fill="#00ffff"/>
<rect x="491.49" y="772.5" width="58.61" height="23.1" fill="#00ffff"/>
<rect x="549.8" y="767.1" width="58.61" height="29.6" fill="#00ffff"/>
<rect x="608.11" y="774" width="58.61" height="30.6" fill="#00ffff"/>
<rect x="666.43" y="766.1" width="58.61" height="39.6" fill="#00ffff"/>
<rect x="724.74" y="763.9" width="58.61" height="49.9" fill="#00ffff"/>
<rect x="783.06" y="751.1" width="58.61" height="62.7" fill="#00ffff"/>
<rect x="841.37" y="757.5" width="58.61" height="63.2" fill="#00ffff"/>
<rect x="899.69" y="771" width="58.61" height="28.7" fill="#00ffff"/>
<path d="M141.6,641.78h13.3M958,641.78h-13.3M141.6,626.06h27M958,626.06h-27M141.6,589.55h13.3M958,589.55h-13.3M141.6,573.83h27M958,573.83h-27M141.6,537.32h13.3M958,537.32h-13.3M141.6,521.6h27M958,521.6h-27M141.6,485.09h13.3M958,485.09h-13.3M141.6,469.37h27M958,469.37h-27M141.6,432.86h13.3M958,432.86h-13.3M141.6,417.14h27M958,417.14h-27M141.6,380.63h13.3M958,380.63h-13.3M141.6,364.91h27M958,364.91h-27M141.6,328.4h13.3M958,328.4h-13.3M141.6,312.68h27M958,312.68h-27M141.6,276.17h13.3M958,276.17h-13.3M141.6,260.45h27M958,260.45h-27M141.6,223.94h13.3M958,223.94h-13.3M141.6,208.22h27M958,208.22h-27M141.6,171.71h13.3M958,171.71h-13.3M141.6,155.99h27M958,155.99h-27M141.6,119.48h13.3M958,119.48h-13.3M141.6,103.76h27M958,103.76h-27M170.76,658v-8.5M170.76,859v-4.3M199.91,658v-8.5M199.91,859v-4.3M229.07,658v-8.5M229.07,859v-4.3M258.23,658v-8.5M258.23,859v-4.3M287.39,658v-16.5M287.39,859v-8.3M316.54,658v-8.5M316.54,859v-4.3M345.7,658v-8.5M345.7,859v-4.3M374.86,658v-8.5M374.86,859v-4.3M404.01,658v-8.5M404.01,859v-4.3M433.17,658v-16.5M433.17,859v-8.3M462.33,658v-8.5M462.33,859v-4.3M491.49,658v-8.5M491.49,859v-4.3M520.64,658v-8.5M520.64,859v-4.3M549.8,658v-8.5M549.8,859v-4.3M578.96,658v-16.5M578.96,859v-8.3M608.11,658v-8.5M608.11,859v-4.3M637.27,658v-8.5M637.27,859v-4.3M666.43,658v-8.5M666.43,859v-4.3M695.59,658v-8.5M695.59,859v-4.3M724.74,658v-16.5M724.74,859v-8.3M753.9,658v-8.5M753.9,859v-4.3M783.06,658v-8.5M783.06,859v-4.3M812.21,658v-8.5M812.21,859v-4.3M841.37,658v-8.5M841.37,859v-4.3M870.53,658v-16.5M870.53,859v-8.3M899.69,658v-8.5M899.69,859v-4.3M928.84,658v-8.5M928.84,859v-4.3M141.6,846.7h18.3M958,846.7h-18.3M141.6,725.9h18.3M958,725.9h-18.3" fill="none" stroke="#000" stroke-width="2"/>
<rect x="141.6" y="67" width="816.4" height="591" fill="none" stroke="#000" stroke-width="2"/>
<rect x="140.6" y="658.6" width="818.4" height="1" fill="#000"/>
<rect x="141.6" y="668.6" width="816.4" height="190.4" fill="none" stroke="#000" stroke-width="1.8"/>
<path d="M141.6,464.1H199.91V481.9H258.23V479.6H316.54V479.9H374.86V481.3H433.17V486.6H491.49V495.1H549.8V506.7H608.11V522H666.43V541.8H724.74V570.7H783.06V602.9H841.37V658.5H899.69V652.9H958" fill="none" stroke="#00ff00" stroke-width="4.2" stroke-linejoin="miter" stroke-linecap="butt"/>
<path d="M141.6,517.2H199.91V536.3H258.23V535H316.54V535.4H374.86V539.5H433.17V544.9H491.49V553.9H549.8V567H608.11V582.3H666.43V602.4H724.74V626.1H783.06V658.5H841.37V658.5H899.69V658.5H958" fill="none" stroke="#0000ff" stroke-width="4.2" stroke-linejoin="miter" stroke-linecap="butt"/>
<path d="M141.6,538.6H199.91V558.3H258.23V556H316.54V553.9H374.86V551.8H433.17V549.7H491.49V549.7H549.8V549.1H608.11V550.3H666.43V550.6H724.74V552.4H783.06V553.1H841.37V557H899.69V513.6H958" fill="none" stroke="#cccc00" stroke-width="4.2" stroke-linejoin="miter" stroke-linecap="butt"/>
<path d="M141.6,337.6H199.91M199.91,358.2H258.23M258.23,356.3H316.54M316.54,358.8H374.86M374.86,378.3H433.17M433.17,409.3H491.49M491.49,442.1H549.8M549.8,462H608.11M608.11,467.3H666.43M637.27,461V474.4M666.43,485H724.74M695.59,476.6V498.8M724.74,485H783.06M753.9,476.6V497.3M783.06,496.8H841.37M812.21,486.2V516.4M841.37,506H899.69M870.53,493.7V533.7M899.69,485H958M928.84,478V494.2M141.6,786.6H199.91M199.91,782.8H258.23M258.23,790.9H316.54M316.54,786H374.86M374.86,777H433.17M404.01,771.4V782.6M433.17,766.1H491.49M462.33,753.6V778.5M491.49,774.4H549.8M520.64,750.4V798.6M549.8,772.9H608.11M578.96,735.4V810.6M608.11,714.2H666.43M637.27,668.6V775.7M666.43,758.8H724.74M695.59,689.4V827.6M724.74,695.8H783.06M753.9,668.6V795.6M783.06,697.9H841.37M812.21,668.6V826.1M841.37,748.7H899.69M870.53,668.6V858.8M899.69,751.5H958M928.84,696.4V806.8" fill="none" stroke="#000099" stroke-width="1.9"/>
<g fill="#000"><circle cx="170.76" cy="337.6" r="6.5"/><circle cx="229.07" cy="358.2" r="6.5"/><circle cx="287.39" cy="356.3" r="6.5"/><circle cx="345.7" cy="358.8" r="6.5"/><circle cx="404.01" cy="378.3" r="6.5"/><circle cx="462.33" cy="409.3" r="6.5"/><circle cx="520.64" cy="442.1" r="6.5"/><circle cx="578.96" cy="462" r="6.5"/><circle cx="637.27" cy="467.3" r="6.5"/><circle cx="695.59" cy="485" r="6.5"/><circle cx="753.9" cy="485" r="6.5"/><circle cx="812.21" cy="496.8" r="6.5"/><circle cx="870.53" cy="506" r="6.5"/><circle cx="928.84" cy="485" r="6.5"/><circle cx="170.76" cy="786.6" r="5.2"/><circle cx="229.07" cy="782.8" r="5.2"/><circle cx="287.39" cy="790.9" r="5.2"/><circle cx="345.7" cy="786" r="5.2"/><circle cx="404.01" cy="777" r="5.2"/><circle cx="462.33" cy="766.1" r="5.2"/><circle cx="520.64" cy="774.4" r="5.2"/><circle cx="578.96" cy="772.9" r="5.2"/><circle cx="637.27" cy="714.2" r="5.2"/><circle cx="695.59" cy="758.8" r="5.2"/><circle cx="753.9" cy="695.8" r="5.2"/><circle cx="812.21" cy="697.9" r="5.2"/><circle cx="870.53" cy="748.7" r="5.2"/><circle cx="928.84" cy="751.5" r="5.2"/></g>
<text transform="translate(132.39,53.60) scale(0.9674,1)" font-size="44.14" font-weight="bold" fill="#000">CMS</text>
<text transform="translate(715.15,54.00) scale(1.0023,1)" font-size="36.97" fill="#000">60 fb</text>
<g transform="translate(796.93,36.70) scale(1.0206,1)"><text font-size="25.51" fill="#000">-1</text><rect x="10.03" y="-2.93" width="4.83" height="3.53" fill="#fff"/><rect x="17.21" y="-2.93" width="4.68" height="3.53" fill="#fff"/></g>
<g transform="translate(825.24,54.00) scale(1.0182,1)"><text font-size="36.97" fill="#000">(13 TeV)</text><rect x="14.53" y="-4.25" width="7.00" height="4.85" fill="#fff"/><rect x="24.93" y="-4.25" width="6.78" height="4.85" fill="#fff"/></g>
<text transform="translate(171.48,113.30) scale(0.9850,1)" font-size="41.24" fill="#000">eμ channel</text>
<rect x="481.3" y="79" width="30.8" height="25" fill="#3f90da" stroke="#000099" stroke-width="1.8"/>
<text transform="translate(519.45,99.90) scale(0.9601,1)" font-size="31.54" fill="#000">tt</text>
<rect x="528.7" y="74.9" width="8.8" height="1.7" fill="#000"/>
<rect x="481.3" y="115.05" width="30.8" height="25" fill="#ffa90e" stroke="#000099" stroke-width="1.8"/>
<text transform="translate(519.60,135.90) scale(0.9750,1)" font-size="31.01" fill="#000">tW</text>
<rect x="481.3" y="151.1" width="30.8" height="25" fill="#bd1f01" stroke="#000099" stroke-width="1.8"/>
<text transform="translate(519.60,171.90) scale(0.9750,1)" font-size="31.01" fill="#000">WW</text>
<rect x="481.3" y="187.15" width="30.8" height="25" fill="#94a4a2" stroke="#000099" stroke-width="1.8"/>
<text transform="translate(519.60,207.90) scale(0.9750,1)" font-size="31.01" fill="#000">DY</text>
<rect x="481.3" y="223.2" width="30.8" height="25" fill="#832db6" stroke="#000099" stroke-width="1.8"/>
<text transform="translate(519.60,243.90) scale(0.9750,1)" font-size="31.01" fill="#000">WZ</text>
<rect x="481.3" y="259.25" width="30.8" height="25" fill="#a96b59" stroke="#000099" stroke-width="1.8"/>
<text transform="translate(519.60,279.90) scale(0.9750,1)" font-size="31.01" fill="#000">ZZ</text>
<rect x="481.3" y="295.3" width="30.8" height="25" fill="#e76300" stroke="#000099" stroke-width="1.8"/>
<text transform="translate(519.60,315.90) scale(0.9750,1)" font-size="31.01" fill="#000">Others</text>
<circle cx="649.1" cy="109.8" r="6.8" fill="#000"/>
<text transform="translate(682.51,120.90) scale(0.9570,1)" font-size="29.86" fill="#000">Data</text>
<rect x="625.1" y="181.1" width="47.9" height="4.2" fill="#00ff00"/>
<rect x="625.1" y="254.2" width="47.9" height="4.2" fill="#0000ff"/>
<rect x="625.1" y="327.2" width="47.9" height="4.2" fill="#cccc00"/>
<text transform="translate(684.76,163.70) scale(1.0383,1)" font-size="28.52" font-style="italic" fill="#000">m</text>
<text transform="translate(706.93,172.60) scale(1.0291,1)" font-size="18.55" fill="#000">Z</text>
<rect x="720.4" y="159.5" width="1.5" height="4.6" fill="#000"/>
<text transform="translate(729.54,163.70) scale(1.0691,1)" font-size="29.14" fill="#000">= 2.5 TeV,</text>
<text transform="translate(684.76,202.40) scale(1.0383,1)" font-size="28.52" font-style="italic" fill="#000">m</text>
<text transform="translate(708.72,213.80) scale(0.9621,1)" font-size="18.48" font-family="Liberation Serif" font-style="italic" fill="#000">χ</text>
<path d="M707.6,202.2 q2.2,-2.4 4.5,-0.9 t4.6,-0.9" fill="none" stroke="#000" stroke-width="1"/>
<text transform="translate(717.21,204.60) scale(0.9408,1)" font-size="13.67" fill="#000">±</text>
<g transform="translate(716.55,225.30) scale(1.3099,1)"><text font-size="12.46" fill="#000">1</text><rect x="0.75" y="-1.43" width="2.36" height="2.03" fill="#fff"/><rect x="4.26" y="-1.43" width="2.29" height="2.03" fill="#fff"/></g>
<text transform="translate(732.55,202.40) scale(0.9962,1)" font-size="29.14" fill="#000">= 345 GeV</text>
<text transform="translate(684.76,237.90) scale(1.0383,1)" font-size="28.52" font-style="italic" fill="#000">m</text>
<text transform="translate(706.93,246.80) scale(1.0291,1)" font-size="18.55" fill="#000">Z</text>
<rect x="720.4" y="233.7" width="1.5" height="4.6" fill="#000"/>
<text transform="translate(729.54,237.90) scale(1.0691,1)" font-size="29.14" fill="#000">= 3.7 TeV,</text>
<text transform="translate(684.76,276.40) scale(1.0383,1)" font-size="28.52" font-style="italic" fill="#000">m</text>
<text transform="translate(708.72,287.80) scale(0.9621,1)" font-size="18.48" font-family="Liberation Serif" font-style="italic" fill="#000">χ</text>
<path d="M707.6,276.2 q2.2,-2.4 4.5,-0.9 t4.6,-0.9" fill="none" stroke="#000" stroke-width="1"/>
<text transform="translate(717.21,278.60) scale(0.9408,1)" font-size="13.67" fill="#000">±</text>
<g transform="translate(716.55,299.30) scale(1.3099,1)"><text font-size="12.46" fill="#000">1</text><rect x="0.75" y="-1.43" width="2.36" height="2.03" fill="#fff"/><rect x="4.26" y="-1.43" width="2.29" height="2.03" fill="#fff"/></g>
<text transform="translate(732.55,276.40) scale(0.9962,1)" font-size="29.14" fill="#000">= 345 GeV</text>
<text transform="translate(684.76,311.00) scale(1.0383,1)" font-size="28.52" font-style="italic" fill="#000">m</text>
<text transform="translate(706.93,319.90) scale(1.0291,1)" font-size="18.55" fill="#000">Z</text>
<rect x="720.4" y="306.8" width="1.5" height="4.6" fill="#000"/>
<text transform="translate(729.54,311.00) scale(1.0691,1)" font-size="29.14" fill="#000">= 3.7 TeV,</text>
<text transform="translate(684.76,349.50) scale(1.0383,1)" font-size="28.52" font-style="italic" fill="#000">m</text>
<text transform="translate(708.72,360.90) scale(0.9621,1)" font-size="18.48" font-family="Liberation Serif" font-style="italic" fill="#000">χ</text>
<path d="M707.6,349.3 q2.2,-2.4 4.5,-0.9 t4.6,-0.9" fill="none" stroke="#000" stroke-width="1"/>
<text transform="translate(717.21,351.70) scale(0.9408,1)" font-size="13.67" fill="#000">±</text>
<g transform="translate(716.55,372.40) scale(1.3099,1)"><text font-size="12.46" fill="#000">1</text><rect x="0.75" y="-1.43" width="2.36" height="2.03" fill="#fff"/><rect x="4.26" y="-1.43" width="2.29" height="2.03" fill="#fff"/></g>
<g transform="translate(732.56,349.50) scale(0.9900,1)"><text font-size="29.14" fill="#000">= 1095 GeV</text><rect x="26.86" y="-3.35" width="5.52" height="3.95" fill="#fff"/><rect x="35.07" y="-3.35" width="5.35" height="3.95" fill="#fff"/></g>
<text transform="translate(57.20,211.40) rotate(-90) translate(-3.93,0) scale(0.9362,1)" font-size="52.46">Events</text>
<text transform="translate(75.20,837.70) rotate(-90) translate(-3.52,0) scale(0.9689,1)" font-size="45.38">Data/MC</text>
<rect x="185.4" y="690.4" width="17.9" height="46.4" fill="#aaffff"/>
<text transform="translate(207.12,728.00) scale(0.9887,1)" font-size="32.31" fill="#000">tot. unc.</text>
<text transform="translate(130.57,896.40) scale(0.9592,1)" font-size="42.57" fill="#000">0</text>
<text transform="translate(264.89,896.40) scale(0.9646,1)" font-size="42.57" fill="#000">50</text>
<g transform="translate(400.48,896.40) scale(0.9503,1)"><text font-size="42.57" fill="#000">100</text><rect x="2.55" y="-4.90" width="8.07" height="5.50" fill="#fff"/><rect x="14.54" y="-4.90" width="7.81" height="5.50" fill="#fff"/></g>
<g transform="translate(546.26,896.40) scale(0.9503,1)"><text font-size="42.57" fill="#000">150</text><rect x="2.55" y="-4.90" width="8.07" height="5.50" fill="#fff"/><rect x="14.54" y="-4.90" width="7.81" height="5.50" fill="#fff"/></g>
<text transform="translate(690.96,896.40) scale(0.9560,1)" font-size="42.57" fill="#000">200</text>
<text transform="translate(836.74,896.40) scale(0.9560,1)" font-size="42.57" fill="#000">250</text>
<text transform="translate(720.76,957.90) scale(1.0053,1)" font-size="54.49" font-style="italic" fill="#000">M</text>
<text transform="translate(765.30,973.60) scale(0.9410,1)" font-size="37.10" fill="#000">T</text>
<text transform="translate(785.85,973.60) scale(0.9903,1)" font-size="37.29" fill="#000">2</text>
<text transform="translate(820.95,957.90) scale(0.9860,1)" font-size="53.24" fill="#000">(GeV)</text>
</g>
</svg></body></html>
